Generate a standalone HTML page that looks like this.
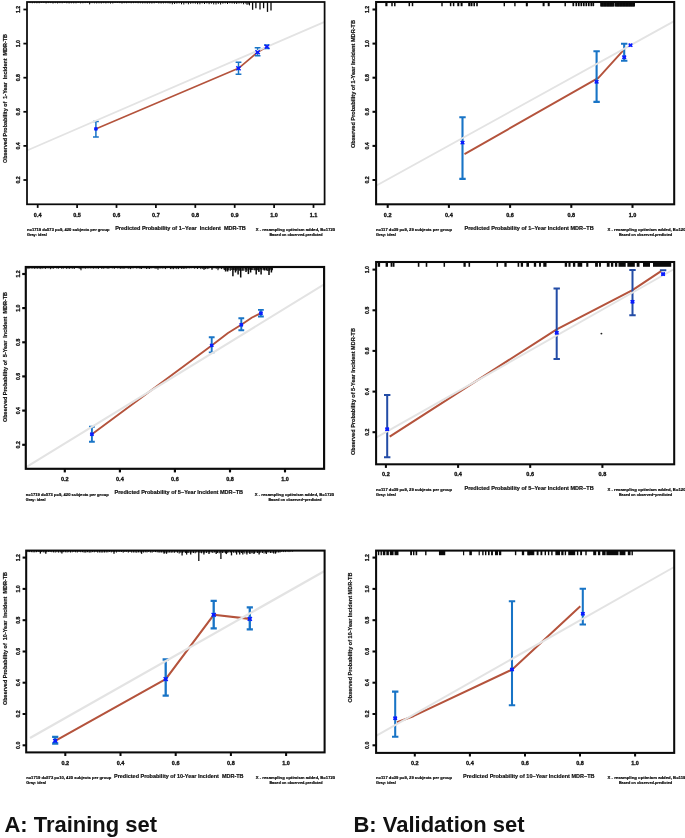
<!DOCTYPE html>
<html><head><meta charset="utf-8"><title>Calibration curves</title>
<style>
html,body{margin:0;padding:0;background:#fff;}
body{width:685px;height:838px;overflow:hidden;font-family:"Liberation Sans",sans-serif;}
svg{display:block;}
</style></head><body>
<svg width="685" height="838" viewBox="0 0 685 838">
<rect width="685" height="838" fill="#ffffff"/>
<g style="filter:blur(0.35px)">
<polyline points="96.2,128.7 238.5,68.3 257.6,52.2 266.9,46.7" fill="none" stroke="#b4533c" stroke-width="1.6" stroke-linejoin="round"/>
<path d="M95.9 121.5V137.0M93.0 121.5H98.8M93.0 137.0H98.8" stroke="#1874c6" stroke-width="1.5" fill="none"/>
<path d="M238.5 62.3V74.3M235.6 62.3H241.4M235.6 74.3H241.4" stroke="#1874c6" stroke-width="1.5" fill="none"/>
<path d="M257.6 47.7V55.7M254.7 47.7H260.5M254.7 55.7H260.5" stroke="#1874c6" stroke-width="1.5" fill="none"/>
<path d="M266.9 44.9V48.5M264.0 44.9H269.8M264.0 48.5H269.8" stroke="#1874c6" stroke-width="1.5" fill="none"/>
<line x1="27" y1="150.5" x2="324.6" y2="21.8" stroke="#e3e3e3" stroke-width="1.8"/>
<line x1="30.0" y1="2" x2="30.0" y2="3.1" stroke="#0a0a0a" stroke-width="0.9"/>
<line x1="32.3" y1="2" x2="32.3" y2="3.3" stroke="#0a0a0a" stroke-width="0.9"/>
<line x1="34.6" y1="2" x2="34.6" y2="3.2" stroke="#0a0a0a" stroke-width="0.9"/>
<line x1="36.9" y1="2" x2="36.9" y2="3.3" stroke="#0a0a0a" stroke-width="0.9"/>
<line x1="39.2" y1="2" x2="39.2" y2="3.3" stroke="#0a0a0a" stroke-width="0.9"/>
<line x1="41.5" y1="2" x2="41.5" y2="2.9" stroke="#0a0a0a" stroke-width="0.9"/>
<line x1="43.8" y1="2" x2="43.8" y2="2.9" stroke="#0a0a0a" stroke-width="0.9"/>
<line x1="46.1" y1="2" x2="46.1" y2="3.5" stroke="#0a0a0a" stroke-width="0.9"/>
<line x1="48.4" y1="2" x2="48.4" y2="3.1" stroke="#0a0a0a" stroke-width="0.9"/>
<line x1="50.7" y1="2" x2="50.7" y2="3.1" stroke="#0a0a0a" stroke-width="0.9"/>
<line x1="53.0" y1="2" x2="53.0" y2="3.6" stroke="#0a0a0a" stroke-width="0.9"/>
<line x1="55.3" y1="2" x2="55.3" y2="3.2" stroke="#0a0a0a" stroke-width="0.9"/>
<line x1="57.6" y1="2" x2="57.6" y2="3.5" stroke="#0a0a0a" stroke-width="0.9"/>
<line x1="59.9" y1="2" x2="59.9" y2="3.2" stroke="#0a0a0a" stroke-width="0.9"/>
<line x1="62.2" y1="2" x2="62.2" y2="3.3" stroke="#0a0a0a" stroke-width="0.9"/>
<line x1="64.5" y1="2" x2="64.5" y2="3.0" stroke="#0a0a0a" stroke-width="0.9"/>
<line x1="66.8" y1="2" x2="66.8" y2="3.3" stroke="#0a0a0a" stroke-width="0.9"/>
<line x1="69.1" y1="2" x2="69.1" y2="3.5" stroke="#0a0a0a" stroke-width="0.9"/>
<line x1="71.4" y1="2" x2="71.4" y2="3.3" stroke="#0a0a0a" stroke-width="0.9"/>
<line x1="73.7" y1="2" x2="73.7" y2="3.4" stroke="#0a0a0a" stroke-width="0.9"/>
<line x1="76.0" y1="2" x2="76.0" y2="3.4" stroke="#0a0a0a" stroke-width="0.9"/>
<line x1="78.3" y1="2" x2="78.3" y2="2.9" stroke="#0a0a0a" stroke-width="0.9"/>
<line x1="80.6" y1="2" x2="80.6" y2="3.4" stroke="#0a0a0a" stroke-width="0.9"/>
<line x1="82.9" y1="2" x2="82.9" y2="3.3" stroke="#0a0a0a" stroke-width="0.9"/>
<line x1="85.2" y1="2" x2="85.2" y2="3.1" stroke="#0a0a0a" stroke-width="0.9"/>
<line x1="87.5" y1="2" x2="87.5" y2="2.9" stroke="#0a0a0a" stroke-width="0.9"/>
<line x1="89.8" y1="2" x2="89.8" y2="3.5" stroke="#0a0a0a" stroke-width="0.9"/>
<line x1="92.1" y1="2" x2="92.1" y2="3.2" stroke="#0a0a0a" stroke-width="0.9"/>
<line x1="94.4" y1="2" x2="94.4" y2="3.4" stroke="#0a0a0a" stroke-width="0.9"/>
<line x1="96.7" y1="2" x2="96.7" y2="3.5" stroke="#0a0a0a" stroke-width="0.9"/>
<line x1="99.0" y1="2" x2="99.0" y2="3.4" stroke="#0a0a0a" stroke-width="0.9"/>
<line x1="101.3" y1="2" x2="101.3" y2="3.5" stroke="#0a0a0a" stroke-width="0.9"/>
<line x1="103.6" y1="2" x2="103.6" y2="3.2" stroke="#0a0a0a" stroke-width="0.9"/>
<line x1="105.9" y1="2" x2="105.9" y2="3.5" stroke="#0a0a0a" stroke-width="0.9"/>
<line x1="108.2" y1="2" x2="108.2" y2="3.2" stroke="#0a0a0a" stroke-width="0.9"/>
<line x1="110.5" y1="2" x2="110.5" y2="3.6" stroke="#0a0a0a" stroke-width="0.9"/>
<line x1="112.8" y1="2" x2="112.8" y2="3.5" stroke="#0a0a0a" stroke-width="0.9"/>
<line x1="115.1" y1="2" x2="115.1" y2="3.0" stroke="#0a0a0a" stroke-width="0.9"/>
<line x1="117.4" y1="2" x2="117.4" y2="3.0" stroke="#0a0a0a" stroke-width="0.9"/>
<line x1="119.7" y1="2" x2="119.7" y2="3.1" stroke="#0a0a0a" stroke-width="0.9"/>
<line x1="122.0" y1="2" x2="122.0" y2="3.6" stroke="#0a0a0a" stroke-width="0.9"/>
<line x1="124.3" y1="2" x2="124.3" y2="3.2" stroke="#0a0a0a" stroke-width="0.9"/>
<line x1="126.6" y1="2" x2="126.6" y2="3.3" stroke="#0a0a0a" stroke-width="0.9"/>
<line x1="128.9" y1="2" x2="128.9" y2="3.1" stroke="#0a0a0a" stroke-width="0.9"/>
<line x1="131.2" y1="2" x2="131.2" y2="3.3" stroke="#0a0a0a" stroke-width="0.9"/>
<line x1="133.5" y1="2" x2="133.5" y2="3.2" stroke="#0a0a0a" stroke-width="0.9"/>
<line x1="135.8" y1="2" x2="135.8" y2="3.1" stroke="#0a0a0a" stroke-width="0.9"/>
<line x1="138.1" y1="2" x2="138.1" y2="3.3" stroke="#0a0a0a" stroke-width="0.9"/>
<line x1="140.4" y1="2" x2="140.4" y2="3.3" stroke="#0a0a0a" stroke-width="0.9"/>
<line x1="142.7" y1="2" x2="142.7" y2="3.5" stroke="#0a0a0a" stroke-width="0.9"/>
<line x1="145.0" y1="2" x2="145.0" y2="3.4" stroke="#0a0a0a" stroke-width="0.9"/>
<line x1="147.3" y1="2" x2="147.3" y2="3.6" stroke="#0a0a0a" stroke-width="0.9"/>
<line x1="149.6" y1="2" x2="149.6" y2="3.5" stroke="#0a0a0a" stroke-width="0.9"/>
<line x1="151.9" y1="2" x2="151.9" y2="3.6" stroke="#0a0a0a" stroke-width="0.9"/>
<line x1="154.2" y1="2" x2="154.2" y2="3.4" stroke="#0a0a0a" stroke-width="0.9"/>
<line x1="156.5" y1="2" x2="156.5" y2="3.0" stroke="#0a0a0a" stroke-width="0.9"/>
<line x1="158.8" y1="2" x2="158.8" y2="3.5" stroke="#0a0a0a" stroke-width="0.9"/>
<line x1="161.1" y1="2" x2="161.1" y2="3.6" stroke="#0a0a0a" stroke-width="0.9"/>
<line x1="163.4" y1="2" x2="163.4" y2="3.5" stroke="#0a0a0a" stroke-width="0.9"/>
<line x1="165.7" y1="2" x2="165.7" y2="3.3" stroke="#0a0a0a" stroke-width="0.9"/>
<line x1="168.0" y1="2" x2="168.0" y2="3.4" stroke="#0a0a0a" stroke-width="0.9"/>
<line x1="170.0" y1="2" x2="170.0" y2="3.6" stroke="#0a0a0a" stroke-width="1.0"/>
<line x1="172.3" y1="2" x2="172.3" y2="4.3" stroke="#0a0a0a" stroke-width="1.0"/>
<line x1="174.6" y1="2" x2="174.6" y2="4.0" stroke="#0a0a0a" stroke-width="1.0"/>
<line x1="176.9" y1="2" x2="176.9" y2="3.6" stroke="#0a0a0a" stroke-width="1.0"/>
<line x1="179.2" y1="2" x2="179.2" y2="3.4" stroke="#0a0a0a" stroke-width="1.0"/>
<line x1="181.5" y1="2" x2="181.5" y2="4.3" stroke="#0a0a0a" stroke-width="1.0"/>
<line x1="183.8" y1="2" x2="183.8" y2="4.5" stroke="#0a0a0a" stroke-width="1.0"/>
<line x1="186.1" y1="2" x2="186.1" y2="3.4" stroke="#0a0a0a" stroke-width="1.0"/>
<line x1="188.4" y1="2" x2="188.4" y2="4.3" stroke="#0a0a0a" stroke-width="1.0"/>
<line x1="190.7" y1="2" x2="190.7" y2="3.8" stroke="#0a0a0a" stroke-width="1.0"/>
<line x1="193.0" y1="2" x2="193.0" y2="3.5" stroke="#0a0a0a" stroke-width="1.0"/>
<line x1="195.3" y1="2" x2="195.3" y2="3.7" stroke="#0a0a0a" stroke-width="1.0"/>
<line x1="197.6" y1="2" x2="197.6" y2="4.2" stroke="#0a0a0a" stroke-width="1.0"/>
<line x1="199.9" y1="2" x2="199.9" y2="4.3" stroke="#0a0a0a" stroke-width="1.0"/>
<line x1="202.2" y1="2" x2="202.2" y2="3.4" stroke="#0a0a0a" stroke-width="1.0"/>
<line x1="204.5" y1="2" x2="204.5" y2="4.0" stroke="#0a0a0a" stroke-width="1.0"/>
<line x1="206.8" y1="2" x2="206.8" y2="3.4" stroke="#0a0a0a" stroke-width="1.0"/>
<line x1="209.1" y1="2" x2="209.1" y2="4.2" stroke="#0a0a0a" stroke-width="1.0"/>
<line x1="211.4" y1="2" x2="211.4" y2="3.7" stroke="#0a0a0a" stroke-width="1.0"/>
<line x1="213.7" y1="2" x2="213.7" y2="4.4" stroke="#0a0a0a" stroke-width="1.0"/>
<line x1="216.0" y1="2" x2="216.0" y2="4.5" stroke="#0a0a0a" stroke-width="1.0"/>
<line x1="218.3" y1="2" x2="218.3" y2="3.9" stroke="#0a0a0a" stroke-width="1.0"/>
<line x1="220.6" y1="2" x2="220.6" y2="4.5" stroke="#0a0a0a" stroke-width="1.0"/>
<line x1="222.9" y1="2" x2="222.9" y2="3.7" stroke="#0a0a0a" stroke-width="1.0"/>
<line x1="225.2" y1="2" x2="225.2" y2="3.4" stroke="#0a0a0a" stroke-width="1.0"/>
<line x1="227.5" y1="2" x2="227.5" y2="4.0" stroke="#0a0a0a" stroke-width="1.0"/>
<line x1="229.8" y1="2" x2="229.8" y2="3.3" stroke="#0a0a0a" stroke-width="1.0"/>
<line x1="232.1" y1="2" x2="232.1" y2="3.5" stroke="#0a0a0a" stroke-width="1.0"/>
<line x1="234.4" y1="2" x2="234.4" y2="3.8" stroke="#0a0a0a" stroke-width="1.0"/>
<line x1="236.7" y1="2" x2="236.7" y2="4.0" stroke="#0a0a0a" stroke-width="1.0"/>
<line x1="239.0" y1="2" x2="239.0" y2="3.5" stroke="#0a0a0a" stroke-width="1.0"/>
<line x1="241.3" y1="2" x2="241.3" y2="3.4" stroke="#0a0a0a" stroke-width="1.0"/>
<line x1="243.6" y1="2" x2="243.6" y2="4.3" stroke="#0a0a0a" stroke-width="1.0"/>
<line x1="245.9" y1="2" x2="245.9" y2="3.7" stroke="#0a0a0a" stroke-width="1.0"/>
<line x1="248.2" y1="2" x2="248.2" y2="4.5" stroke="#0a0a0a" stroke-width="1.0"/>
<line x1="252.6" y1="2" x2="252.6" y2="9.8" stroke="#0a0a0a" stroke-width="1.3"/>
<line x1="255.9" y1="2" x2="255.9" y2="8.2" stroke="#0a0a0a" stroke-width="1.3"/>
<line x1="260.0" y1="2" x2="260.0" y2="9.4" stroke="#0a0a0a" stroke-width="1.3"/>
<line x1="263.6" y1="2" x2="263.6" y2="8.2" stroke="#0a0a0a" stroke-width="1.3"/>
<line x1="267.5" y1="2" x2="267.5" y2="11.9" stroke="#0a0a0a" stroke-width="1.3"/>
<line x1="271.0" y1="2" x2="271.0" y2="10.6" stroke="#0a0a0a" stroke-width="1.3"/>
<line x1="89.6" y1="2" x2="89.6" y2="4.4" stroke="#0a0a0a" stroke-width="0.9"/>
<line x1="247.0" y1="2" x2="247.0" y2="4.8" stroke="#0a0a0a" stroke-width="1.0"/>
<line x1="249.5" y1="2" x2="249.5" y2="5.4" stroke="#0a0a0a" stroke-width="1.0"/>
<path d="M94.6 127.8L97.2 130.0M94.6 130.0L97.2 127.8" stroke="#0a1cff" stroke-width="1.4" fill="none"/>
<rect x="94.3" y="127.3" width="3.2" height="3.2" fill="#0a1cff"/>
<path d="M236.3 66.4L240.7 70.2M236.3 70.2L240.7 66.4" stroke="#0a1cff" stroke-width="1.4" fill="none"/>
<rect x="237.3" y="67.1" width="2.4" height="2.4" fill="#0a1cff"/>
<path d="M255.4 50.3L259.8 54.1M255.4 54.1L259.8 50.3" stroke="#0a1cff" stroke-width="1.4" fill="none"/>
<rect x="256.4" y="51.0" width="2.4" height="2.4" fill="#0a1cff"/>
<path d="M264.7 44.8L269.1 48.6M264.7 48.6L269.1 44.8" stroke="#0a1cff" stroke-width="1.4" fill="none"/>
<rect x="265.7" y="45.5" width="2.4" height="2.4" fill="#0a1cff"/>
<rect x="27" y="2" width="297.6" height="202.3" fill="none" stroke="#0a0a0a" stroke-width="1.75"/>
<line x1="37.7" y1="204.3" x2="37.7" y2="207.9" stroke="#0a0a0a" stroke-width="1.75"/>
<text x="37.7" y="216.8" font-size="5.5" text-anchor="middle" fill="#111" font-family="Liberation Sans, sans-serif" font-weight="bold" stroke="#111" stroke-width="0.32" >0.4</text>
<line x1="77.1" y1="204.3" x2="77.1" y2="207.9" stroke="#0a0a0a" stroke-width="1.75"/>
<text x="77.1" y="216.8" font-size="5.5" text-anchor="middle" fill="#111" font-family="Liberation Sans, sans-serif" font-weight="bold" stroke="#111" stroke-width="0.32" >0.5</text>
<line x1="116.5" y1="204.3" x2="116.5" y2="207.9" stroke="#0a0a0a" stroke-width="1.75"/>
<text x="116.5" y="216.8" font-size="5.5" text-anchor="middle" fill="#111" font-family="Liberation Sans, sans-serif" font-weight="bold" stroke="#111" stroke-width="0.32" >0.6</text>
<line x1="155.9" y1="204.3" x2="155.9" y2="207.9" stroke="#0a0a0a" stroke-width="1.75"/>
<text x="155.9" y="216.8" font-size="5.5" text-anchor="middle" fill="#111" font-family="Liberation Sans, sans-serif" font-weight="bold" stroke="#111" stroke-width="0.32" >0.7</text>
<line x1="195.3" y1="204.3" x2="195.3" y2="207.9" stroke="#0a0a0a" stroke-width="1.75"/>
<text x="195.3" y="216.8" font-size="5.5" text-anchor="middle" fill="#111" font-family="Liberation Sans, sans-serif" font-weight="bold" stroke="#111" stroke-width="0.32" >0.8</text>
<line x1="234.7" y1="204.3" x2="234.7" y2="207.9" stroke="#0a0a0a" stroke-width="1.75"/>
<text x="234.7" y="216.8" font-size="5.5" text-anchor="middle" fill="#111" font-family="Liberation Sans, sans-serif" font-weight="bold" stroke="#111" stroke-width="0.32" >0.9</text>
<line x1="274.1" y1="204.3" x2="274.1" y2="207.9" stroke="#0a0a0a" stroke-width="1.75"/>
<text x="274.1" y="216.8" font-size="5.5" text-anchor="middle" fill="#111" font-family="Liberation Sans, sans-serif" font-weight="bold" stroke="#111" stroke-width="0.32" >1.0</text>
<line x1="313.5" y1="204.3" x2="313.5" y2="207.9" stroke="#0a0a0a" stroke-width="1.75"/>
<text x="313.5" y="216.8" font-size="5.5" text-anchor="middle" fill="#111" font-family="Liberation Sans, sans-serif" font-weight="bold" stroke="#111" stroke-width="0.32" >1.1</text>
<line x1="23.4" y1="180.0" x2="27" y2="180.0" stroke="#0a0a0a" stroke-width="1.75"/>
<text x="19.8" y="180.0" font-size="5.15" text-anchor="middle" fill="#111" font-family="Liberation Sans, sans-serif" font-weight="bold" transform="rotate(-90 19.8 180.0)" stroke="#111" stroke-width="0.32" >0.2</text>
<line x1="23.4" y1="145.9" x2="27" y2="145.9" stroke="#0a0a0a" stroke-width="1.75"/>
<text x="19.8" y="145.9" font-size="5.15" text-anchor="middle" fill="#111" font-family="Liberation Sans, sans-serif" font-weight="bold" transform="rotate(-90 19.8 145.9)" stroke="#111" stroke-width="0.32" >0.4</text>
<line x1="23.4" y1="111.8" x2="27" y2="111.8" stroke="#0a0a0a" stroke-width="1.75"/>
<text x="19.8" y="111.8" font-size="5.15" text-anchor="middle" fill="#111" font-family="Liberation Sans, sans-serif" font-weight="bold" transform="rotate(-90 19.8 111.8)" stroke="#111" stroke-width="0.32" >0.6</text>
<line x1="23.4" y1="77.7" x2="27" y2="77.7" stroke="#0a0a0a" stroke-width="1.75"/>
<text x="19.8" y="77.7" font-size="5.15" text-anchor="middle" fill="#111" font-family="Liberation Sans, sans-serif" font-weight="bold" transform="rotate(-90 19.8 77.7)" stroke="#111" stroke-width="0.32" >0.8</text>
<line x1="23.4" y1="43.6" x2="27" y2="43.6" stroke="#0a0a0a" stroke-width="1.75"/>
<text x="19.8" y="43.6" font-size="5.15" text-anchor="middle" fill="#111" font-family="Liberation Sans, sans-serif" font-weight="bold" transform="rotate(-90 19.8 43.6)" stroke="#111" stroke-width="0.32" >1.0</text>
<line x1="23.4" y1="9.5" x2="27" y2="9.5" stroke="#0a0a0a" stroke-width="1.75"/>
<text x="19.8" y="9.5" font-size="5.15" text-anchor="middle" fill="#111" font-family="Liberation Sans, sans-serif" font-weight="bold" transform="rotate(-90 19.8 9.5)" stroke="#111" stroke-width="0.32" >1.2</text>
<text x="180.5" y="229.8" font-size="5.5" text-anchor="middle" fill="#111" font-family="Liberation Sans, sans-serif" font-weight="bold" textLength="130.6" lengthAdjust="spacingAndGlyphs" stroke="#111" stroke-width="0.2" >Predicted Probability of 1&#8722;Year &#160;Incident &#160;MDR-TB</text>
<text x="6.5" y="98.5" font-size="5.5" text-anchor="middle" fill="#111" font-family="Liberation Sans, sans-serif" font-weight="bold" textLength="129.0" lengthAdjust="spacingAndGlyphs" transform="rotate(-90 6.5 98.5)" stroke="#111" stroke-width="0.2" >Observed Probability of &#160;1-Year &#160;Incident &#160;MDR-TB</text>
<text x="27.0" y="231.2" font-size="4.0" text-anchor="start" fill="#000" font-family="Liberation Sans, sans-serif" font-weight="bold" textLength="82.5" lengthAdjust="spacingAndGlyphs" stroke="#000" stroke-width="0.17" >n=1719 d=573 p=9, 420 subjects per group</text>
<text x="27.0" y="236.2" font-size="4.0" text-anchor="start" fill="#000" font-family="Liberation Sans, sans-serif" font-weight="bold" textLength="19.7" lengthAdjust="spacingAndGlyphs" stroke="#000" stroke-width="0.17" >Gray: ideal</text>
<text x="295.5" y="231.2" font-size="4.0" text-anchor="middle" fill="#000" font-family="Liberation Sans, sans-serif" font-weight="bold" textLength="79.3" lengthAdjust="spacingAndGlyphs" stroke="#000" stroke-width="0.17" >X - resampling optimism added, B=1720</text>
<text x="296.0" y="236.2" font-size="4.0" text-anchor="middle" fill="#000" font-family="Liberation Sans, sans-serif" font-weight="bold" textLength="53.2" lengthAdjust="spacingAndGlyphs" stroke="#000" stroke-width="0.17" >Based on observed-predicted</text>
<polyline points="91.9,434.2 211.7,345.4 228.0,333.0 241.3,324.8 252.0,317.5 260.9,313.2" fill="none" stroke="#b4533c" stroke-width="1.9" stroke-linejoin="round"/>
<path d="M91.9 426.7V441.7M89.0 426.7H94.8M89.0 441.7H94.8" stroke="#1874c6" stroke-width="1.9" fill="none"/>
<path d="M211.7 337.3V352.4M208.8 337.3H214.6M208.8 352.4H214.6" stroke="#1874c6" stroke-width="1.9" fill="none"/>
<path d="M241.3 318.2V330.3M238.4 318.2H244.2M238.4 330.3H244.2" stroke="#1874c6" stroke-width="1.9" fill="none"/>
<path d="M260.9 309.9V316.5M258.0 309.9H263.8M258.0 316.5H263.8" stroke="#1874c6" stroke-width="1.9" fill="none"/>
<line x1="25.8" y1="467.3" x2="324.1" y2="284.4" stroke="#e3e3e3" stroke-width="2.1"/>
<line x1="28.0" y1="267" x2="28.0" y2="269.1" stroke="#0a0a0a" stroke-width="1.0"/>
<line x1="29.6" y1="267" x2="29.6" y2="268.5" stroke="#0a0a0a" stroke-width="1.0"/>
<line x1="31.2" y1="267" x2="31.2" y2="268.6" stroke="#0a0a0a" stroke-width="1.0"/>
<line x1="32.8" y1="267" x2="32.8" y2="268.6" stroke="#0a0a0a" stroke-width="1.0"/>
<line x1="34.4" y1="267" x2="34.4" y2="268.8" stroke="#0a0a0a" stroke-width="1.0"/>
<line x1="36.0" y1="267" x2="36.0" y2="268.7" stroke="#0a0a0a" stroke-width="1.0"/>
<line x1="37.6" y1="267" x2="37.6" y2="268.7" stroke="#0a0a0a" stroke-width="1.0"/>
<line x1="39.2" y1="267" x2="39.2" y2="268.7" stroke="#0a0a0a" stroke-width="1.0"/>
<line x1="40.8" y1="267" x2="40.8" y2="269.1" stroke="#0a0a0a" stroke-width="1.0"/>
<line x1="42.4" y1="267" x2="42.4" y2="268.6" stroke="#0a0a0a" stroke-width="1.0"/>
<line x1="44.0" y1="267" x2="44.0" y2="268.5" stroke="#0a0a0a" stroke-width="1.0"/>
<line x1="45.6" y1="267" x2="45.6" y2="268.9" stroke="#0a0a0a" stroke-width="1.0"/>
<line x1="47.2" y1="267" x2="47.2" y2="268.3" stroke="#0a0a0a" stroke-width="1.0"/>
<line x1="48.8" y1="267" x2="48.8" y2="268.4" stroke="#0a0a0a" stroke-width="1.0"/>
<line x1="50.4" y1="267" x2="50.4" y2="269.2" stroke="#0a0a0a" stroke-width="1.0"/>
<line x1="52.0" y1="267" x2="52.0" y2="268.6" stroke="#0a0a0a" stroke-width="1.0"/>
<line x1="53.6" y1="267" x2="53.6" y2="268.7" stroke="#0a0a0a" stroke-width="1.0"/>
<line x1="55.2" y1="267" x2="55.2" y2="268.0" stroke="#0a0a0a" stroke-width="1.0"/>
<line x1="56.8" y1="267" x2="56.8" y2="268.5" stroke="#0a0a0a" stroke-width="1.0"/>
<line x1="58.4" y1="267" x2="58.4" y2="268.7" stroke="#0a0a0a" stroke-width="1.0"/>
<line x1="60.0" y1="267" x2="60.0" y2="268.0" stroke="#0a0a0a" stroke-width="1.0"/>
<line x1="61.6" y1="267" x2="61.6" y2="268.7" stroke="#0a0a0a" stroke-width="1.0"/>
<line x1="63.2" y1="267" x2="63.2" y2="268.8" stroke="#0a0a0a" stroke-width="1.0"/>
<line x1="64.8" y1="267" x2="64.8" y2="268.1" stroke="#0a0a0a" stroke-width="1.0"/>
<line x1="66.4" y1="267" x2="66.4" y2="268.8" stroke="#0a0a0a" stroke-width="1.0"/>
<line x1="68.0" y1="267" x2="68.0" y2="268.6" stroke="#0a0a0a" stroke-width="1.0"/>
<line x1="69.6" y1="267" x2="69.6" y2="268.8" stroke="#0a0a0a" stroke-width="1.0"/>
<line x1="71.2" y1="267" x2="71.2" y2="268.4" stroke="#0a0a0a" stroke-width="1.0"/>
<line x1="72.8" y1="267" x2="72.8" y2="268.8" stroke="#0a0a0a" stroke-width="1.0"/>
<line x1="74.4" y1="267" x2="74.4" y2="268.9" stroke="#0a0a0a" stroke-width="1.0"/>
<line x1="76.0" y1="267" x2="76.0" y2="268.0" stroke="#0a0a0a" stroke-width="1.0"/>
<line x1="77.6" y1="267" x2="77.6" y2="268.1" stroke="#0a0a0a" stroke-width="1.0"/>
<line x1="79.2" y1="267" x2="79.2" y2="268.8" stroke="#0a0a0a" stroke-width="1.0"/>
<line x1="80.8" y1="267" x2="80.8" y2="269.2" stroke="#0a0a0a" stroke-width="1.0"/>
<line x1="82.4" y1="267" x2="82.4" y2="268.3" stroke="#0a0a0a" stroke-width="1.0"/>
<line x1="84.0" y1="267" x2="84.0" y2="268.5" stroke="#0a0a0a" stroke-width="1.0"/>
<line x1="85.6" y1="267" x2="85.6" y2="268.7" stroke="#0a0a0a" stroke-width="1.0"/>
<line x1="87.2" y1="267" x2="87.2" y2="268.4" stroke="#0a0a0a" stroke-width="1.0"/>
<line x1="88.8" y1="267" x2="88.8" y2="268.4" stroke="#0a0a0a" stroke-width="1.0"/>
<line x1="90.4" y1="267" x2="90.4" y2="268.4" stroke="#0a0a0a" stroke-width="1.0"/>
<line x1="92.0" y1="267" x2="92.0" y2="268.4" stroke="#0a0a0a" stroke-width="1.0"/>
<line x1="93.6" y1="267" x2="93.6" y2="268.7" stroke="#0a0a0a" stroke-width="1.0"/>
<line x1="95.2" y1="267" x2="95.2" y2="268.4" stroke="#0a0a0a" stroke-width="1.0"/>
<line x1="96.8" y1="267" x2="96.8" y2="268.5" stroke="#0a0a0a" stroke-width="1.0"/>
<line x1="98.4" y1="267" x2="98.4" y2="268.9" stroke="#0a0a0a" stroke-width="1.0"/>
<line x1="100.0" y1="267" x2="100.0" y2="268.0" stroke="#0a0a0a" stroke-width="1.0"/>
<line x1="101.6" y1="267" x2="101.6" y2="268.7" stroke="#0a0a0a" stroke-width="1.0"/>
<line x1="103.2" y1="267" x2="103.2" y2="268.9" stroke="#0a0a0a" stroke-width="1.0"/>
<line x1="104.8" y1="267" x2="104.8" y2="268.4" stroke="#0a0a0a" stroke-width="1.0"/>
<line x1="106.4" y1="267" x2="106.4" y2="268.3" stroke="#0a0a0a" stroke-width="1.0"/>
<line x1="108.0" y1="267" x2="108.0" y2="269.0" stroke="#0a0a0a" stroke-width="1.0"/>
<line x1="109.6" y1="267" x2="109.6" y2="268.3" stroke="#0a0a0a" stroke-width="1.0"/>
<line x1="111.2" y1="267" x2="111.2" y2="268.2" stroke="#0a0a0a" stroke-width="1.0"/>
<line x1="112.8" y1="267" x2="112.8" y2="268.5" stroke="#0a0a0a" stroke-width="1.0"/>
<line x1="114.4" y1="267" x2="114.4" y2="268.8" stroke="#0a0a0a" stroke-width="1.0"/>
<line x1="116.0" y1="267" x2="116.0" y2="268.1" stroke="#0a0a0a" stroke-width="1.0"/>
<line x1="117.6" y1="267" x2="117.6" y2="268.4" stroke="#0a0a0a" stroke-width="1.0"/>
<line x1="119.2" y1="267" x2="119.2" y2="268.4" stroke="#0a0a0a" stroke-width="1.0"/>
<line x1="120.8" y1="267" x2="120.8" y2="269.0" stroke="#0a0a0a" stroke-width="1.0"/>
<line x1="122.4" y1="267" x2="122.4" y2="268.5" stroke="#0a0a0a" stroke-width="1.0"/>
<line x1="124.0" y1="267" x2="124.0" y2="269.0" stroke="#0a0a0a" stroke-width="1.0"/>
<line x1="125.6" y1="267" x2="125.6" y2="268.2" stroke="#0a0a0a" stroke-width="1.0"/>
<line x1="127.2" y1="267" x2="127.2" y2="268.4" stroke="#0a0a0a" stroke-width="1.0"/>
<line x1="128.8" y1="267" x2="128.8" y2="268.8" stroke="#0a0a0a" stroke-width="1.0"/>
<line x1="130.4" y1="267" x2="130.4" y2="269.1" stroke="#0a0a0a" stroke-width="1.0"/>
<line x1="132.0" y1="267" x2="132.0" y2="268.5" stroke="#0a0a0a" stroke-width="1.0"/>
<line x1="133.6" y1="267" x2="133.6" y2="268.3" stroke="#0a0a0a" stroke-width="1.0"/>
<line x1="135.2" y1="267" x2="135.2" y2="268.1" stroke="#0a0a0a" stroke-width="1.0"/>
<line x1="136.8" y1="267" x2="136.8" y2="268.6" stroke="#0a0a0a" stroke-width="1.0"/>
<line x1="138.4" y1="267" x2="138.4" y2="268.2" stroke="#0a0a0a" stroke-width="1.0"/>
<line x1="140.0" y1="267" x2="140.0" y2="269.0" stroke="#0a0a0a" stroke-width="1.0"/>
<line x1="141.6" y1="267" x2="141.6" y2="269.0" stroke="#0a0a0a" stroke-width="1.0"/>
<line x1="143.2" y1="267" x2="143.2" y2="268.2" stroke="#0a0a0a" stroke-width="1.0"/>
<line x1="144.8" y1="267" x2="144.8" y2="268.3" stroke="#0a0a0a" stroke-width="1.0"/>
<line x1="146.4" y1="267" x2="146.4" y2="269.0" stroke="#0a0a0a" stroke-width="1.0"/>
<line x1="148.0" y1="267" x2="148.0" y2="268.8" stroke="#0a0a0a" stroke-width="1.0"/>
<line x1="149.6" y1="267" x2="149.6" y2="269.0" stroke="#0a0a0a" stroke-width="1.0"/>
<line x1="151.2" y1="267" x2="151.2" y2="268.4" stroke="#0a0a0a" stroke-width="1.0"/>
<line x1="152.8" y1="267" x2="152.8" y2="268.2" stroke="#0a0a0a" stroke-width="1.0"/>
<line x1="154.4" y1="267" x2="154.4" y2="268.4" stroke="#0a0a0a" stroke-width="1.0"/>
<line x1="156.0" y1="267" x2="156.0" y2="269.0" stroke="#0a0a0a" stroke-width="1.0"/>
<line x1="157.6" y1="267" x2="157.6" y2="268.3" stroke="#0a0a0a" stroke-width="1.0"/>
<line x1="159.2" y1="267" x2="159.2" y2="268.4" stroke="#0a0a0a" stroke-width="1.0"/>
<line x1="160.8" y1="267" x2="160.8" y2="268.5" stroke="#0a0a0a" stroke-width="1.0"/>
<line x1="162.4" y1="267" x2="162.4" y2="268.5" stroke="#0a0a0a" stroke-width="1.0"/>
<line x1="164.0" y1="267" x2="164.0" y2="268.5" stroke="#0a0a0a" stroke-width="1.0"/>
<line x1="165.6" y1="267" x2="165.6" y2="269.1" stroke="#0a0a0a" stroke-width="1.0"/>
<line x1="167.2" y1="267" x2="167.2" y2="268.2" stroke="#0a0a0a" stroke-width="1.0"/>
<line x1="168.8" y1="267" x2="168.8" y2="268.0" stroke="#0a0a0a" stroke-width="1.0"/>
<line x1="170.4" y1="267" x2="170.4" y2="269.1" stroke="#0a0a0a" stroke-width="1.0"/>
<line x1="172.0" y1="267" x2="172.0" y2="269.1" stroke="#0a0a0a" stroke-width="1.0"/>
<line x1="173.6" y1="267" x2="173.6" y2="269.2" stroke="#0a0a0a" stroke-width="1.0"/>
<line x1="175.2" y1="267" x2="175.2" y2="268.5" stroke="#0a0a0a" stroke-width="1.0"/>
<line x1="176.8" y1="267" x2="176.8" y2="269.1" stroke="#0a0a0a" stroke-width="1.0"/>
<line x1="178.4" y1="267" x2="178.4" y2="269.1" stroke="#0a0a0a" stroke-width="1.0"/>
<line x1="180.0" y1="267" x2="180.0" y2="268.3" stroke="#0a0a0a" stroke-width="1.0"/>
<line x1="181.6" y1="267" x2="181.6" y2="268.9" stroke="#0a0a0a" stroke-width="1.0"/>
<line x1="183.2" y1="267" x2="183.2" y2="269.0" stroke="#0a0a0a" stroke-width="1.0"/>
<line x1="184.8" y1="267" x2="184.8" y2="268.8" stroke="#0a0a0a" stroke-width="1.0"/>
<line x1="186.4" y1="267" x2="186.4" y2="268.6" stroke="#0a0a0a" stroke-width="1.0"/>
<line x1="188.0" y1="267" x2="188.0" y2="268.3" stroke="#0a0a0a" stroke-width="1.0"/>
<line x1="189.6" y1="267" x2="189.6" y2="268.4" stroke="#0a0a0a" stroke-width="1.0"/>
<line x1="191.2" y1="267" x2="191.2" y2="268.3" stroke="#0a0a0a" stroke-width="1.0"/>
<line x1="192.8" y1="267" x2="192.8" y2="268.1" stroke="#0a0a0a" stroke-width="1.0"/>
<line x1="194.4" y1="267" x2="194.4" y2="268.7" stroke="#0a0a0a" stroke-width="1.0"/>
<line x1="196.0" y1="267" x2="196.0" y2="268.3" stroke="#0a0a0a" stroke-width="1.0"/>
<line x1="197.6" y1="267" x2="197.6" y2="269.0" stroke="#0a0a0a" stroke-width="1.0"/>
<line x1="199.2" y1="267" x2="199.2" y2="268.1" stroke="#0a0a0a" stroke-width="1.0"/>
<line x1="200.8" y1="267" x2="200.8" y2="269.1" stroke="#0a0a0a" stroke-width="1.0"/>
<line x1="202.4" y1="267" x2="202.4" y2="268.8" stroke="#0a0a0a" stroke-width="1.0"/>
<line x1="204.0" y1="267" x2="204.0" y2="269.1" stroke="#0a0a0a" stroke-width="1.0"/>
<line x1="205.6" y1="267" x2="205.6" y2="269.1" stroke="#0a0a0a" stroke-width="1.0"/>
<line x1="207.2" y1="267" x2="207.2" y2="269.1" stroke="#0a0a0a" stroke-width="1.0"/>
<line x1="208.8" y1="267" x2="208.8" y2="268.7" stroke="#0a0a0a" stroke-width="1.0"/>
<line x1="210.4" y1="267" x2="210.4" y2="268.0" stroke="#0a0a0a" stroke-width="1.0"/>
<line x1="212.0" y1="267" x2="212.0" y2="268.9" stroke="#0a0a0a" stroke-width="1.0"/>
<line x1="213.6" y1="267" x2="213.6" y2="268.2" stroke="#0a0a0a" stroke-width="1.0"/>
<line x1="215.2" y1="267" x2="215.2" y2="268.4" stroke="#0a0a0a" stroke-width="1.0"/>
<line x1="216.8" y1="267" x2="216.8" y2="268.8" stroke="#0a0a0a" stroke-width="1.0"/>
<line x1="218.4" y1="267" x2="218.4" y2="268.6" stroke="#0a0a0a" stroke-width="1.0"/>
<line x1="220.0" y1="267" x2="220.0" y2="268.5" stroke="#0a0a0a" stroke-width="1.0"/>
<line x1="221.6" y1="267" x2="221.6" y2="269.1" stroke="#0a0a0a" stroke-width="1.0"/>
<line x1="223.2" y1="267" x2="223.2" y2="268.7" stroke="#0a0a0a" stroke-width="1.0"/>
<line x1="224.3" y1="267" x2="224.3" y2="270.1" stroke="#0a0a0a" stroke-width="1.2"/>
<line x1="225.8" y1="267" x2="225.8" y2="270.0" stroke="#0a0a0a" stroke-width="1.2"/>
<line x1="227.3" y1="267" x2="227.3" y2="270.8" stroke="#0a0a0a" stroke-width="1.2"/>
<line x1="228.8" y1="267" x2="228.8" y2="270.3" stroke="#0a0a0a" stroke-width="1.2"/>
<line x1="230.3" y1="267" x2="230.3" y2="270.7" stroke="#0a0a0a" stroke-width="1.2"/>
<line x1="231.8" y1="267" x2="231.8" y2="270.1" stroke="#0a0a0a" stroke-width="1.2"/>
<line x1="233.3" y1="267" x2="233.3" y2="269.9" stroke="#0a0a0a" stroke-width="1.2"/>
<line x1="234.8" y1="267" x2="234.8" y2="270.3" stroke="#0a0a0a" stroke-width="1.2"/>
<line x1="236.3" y1="267" x2="236.3" y2="270.7" stroke="#0a0a0a" stroke-width="1.2"/>
<line x1="237.8" y1="267" x2="237.8" y2="269.8" stroke="#0a0a0a" stroke-width="1.2"/>
<line x1="239.3" y1="267" x2="239.3" y2="270.7" stroke="#0a0a0a" stroke-width="1.2"/>
<line x1="240.8" y1="267" x2="240.8" y2="270.9" stroke="#0a0a0a" stroke-width="1.2"/>
<line x1="242.3" y1="267" x2="242.3" y2="270.7" stroke="#0a0a0a" stroke-width="1.2"/>
<line x1="243.8" y1="267" x2="243.8" y2="270.8" stroke="#0a0a0a" stroke-width="1.2"/>
<line x1="245.3" y1="267" x2="245.3" y2="269.6" stroke="#0a0a0a" stroke-width="1.2"/>
<line x1="246.8" y1="267" x2="246.8" y2="270.5" stroke="#0a0a0a" stroke-width="1.2"/>
<line x1="248.3" y1="267" x2="248.3" y2="270.8" stroke="#0a0a0a" stroke-width="1.2"/>
<line x1="249.8" y1="267" x2="249.8" y2="269.7" stroke="#0a0a0a" stroke-width="1.2"/>
<line x1="251.3" y1="267" x2="251.3" y2="270.0" stroke="#0a0a0a" stroke-width="1.2"/>
<line x1="252.8" y1="267" x2="252.8" y2="270.0" stroke="#0a0a0a" stroke-width="1.2"/>
<line x1="254.3" y1="267" x2="254.3" y2="270.3" stroke="#0a0a0a" stroke-width="1.2"/>
<line x1="255.8" y1="267" x2="255.8" y2="270.2" stroke="#0a0a0a" stroke-width="1.2"/>
<line x1="257.3" y1="267" x2="257.3" y2="270.3" stroke="#0a0a0a" stroke-width="1.2"/>
<line x1="258.8" y1="267" x2="258.8" y2="270.7" stroke="#0a0a0a" stroke-width="1.2"/>
<line x1="260.3" y1="267" x2="260.3" y2="269.6" stroke="#0a0a0a" stroke-width="1.2"/>
<line x1="261.8" y1="267" x2="261.8" y2="269.7" stroke="#0a0a0a" stroke-width="1.2"/>
<line x1="263.3" y1="267" x2="263.3" y2="269.8" stroke="#0a0a0a" stroke-width="1.2"/>
<line x1="264.8" y1="267" x2="264.8" y2="269.8" stroke="#0a0a0a" stroke-width="1.2"/>
<line x1="266.3" y1="267" x2="266.3" y2="269.7" stroke="#0a0a0a" stroke-width="1.2"/>
<line x1="267.8" y1="267" x2="267.8" y2="271.0" stroke="#0a0a0a" stroke-width="1.2"/>
<line x1="269.3" y1="267" x2="269.3" y2="270.8" stroke="#0a0a0a" stroke-width="1.2"/>
<line x1="270.8" y1="267" x2="270.8" y2="269.7" stroke="#0a0a0a" stroke-width="1.2"/>
<line x1="272.3" y1="267" x2="272.3" y2="270.3" stroke="#0a0a0a" stroke-width="1.2"/>
<line x1="225.6" y1="267" x2="225.6" y2="271.5" stroke="#0a0a0a" stroke-width="1.5"/>
<line x1="227.6" y1="267" x2="227.6" y2="271.5" stroke="#0a0a0a" stroke-width="1.5"/>
<line x1="232.9" y1="267" x2="232.9" y2="276.2" stroke="#0a0a0a" stroke-width="1.5"/>
<line x1="235.5" y1="267" x2="235.5" y2="272.5" stroke="#0a0a0a" stroke-width="1.5"/>
<line x1="238.1" y1="267" x2="238.1" y2="274.5" stroke="#0a0a0a" stroke-width="1.5"/>
<line x1="240.7" y1="267" x2="240.7" y2="277.5" stroke="#0a0a0a" stroke-width="1.5"/>
<line x1="246.0" y1="267" x2="246.0" y2="271.9" stroke="#0a0a0a" stroke-width="1.5"/>
<line x1="248.4" y1="267" x2="248.4" y2="274.1" stroke="#0a0a0a" stroke-width="1.5"/>
<line x1="250.6" y1="267" x2="250.6" y2="272.5" stroke="#0a0a0a" stroke-width="1.5"/>
<line x1="256.2" y1="267" x2="256.2" y2="274.5" stroke="#0a0a0a" stroke-width="1.5"/>
<line x1="258.9" y1="267" x2="258.9" y2="272.0" stroke="#0a0a0a" stroke-width="1.5"/>
<line x1="261.1" y1="267" x2="261.1" y2="274.5" stroke="#0a0a0a" stroke-width="1.5"/>
<line x1="264.4" y1="267" x2="264.4" y2="270.5" stroke="#0a0a0a" stroke-width="1.5"/>
<line x1="266.4" y1="267" x2="266.4" y2="270.5" stroke="#0a0a0a" stroke-width="1.5"/>
<line x1="269.0" y1="267" x2="269.0" y2="275.1" stroke="#0a0a0a" stroke-width="1.5"/>
<line x1="271.4" y1="267" x2="271.4" y2="272.5" stroke="#0a0a0a" stroke-width="1.5"/>
<line x1="81.0" y1="267" x2="81.0" y2="270.3" stroke="#0a0a0a" stroke-width="1.0"/>
<line x1="158.0" y1="267" x2="158.0" y2="269.8" stroke="#0a0a0a" stroke-width="1.0"/>
<line x1="204.0" y1="267" x2="204.0" y2="270.0" stroke="#0a0a0a" stroke-width="1.0"/>
<line x1="212.0" y1="267" x2="212.0" y2="270.0" stroke="#0a0a0a" stroke-width="1.0"/>
<line x1="218.0" y1="267" x2="218.0" y2="270.2" stroke="#0a0a0a" stroke-width="1.0"/>
<path d="M90.2 432.8L93.6 435.6M90.2 435.6L93.6 432.8" stroke="#0a1cff" stroke-width="1.4" fill="none"/>
<rect x="90.4" y="432.7" width="3.0" height="3.0" fill="#0a1cff"/>
<path d="M210.0 344.0L213.4 346.8M210.0 346.8L213.4 344.0" stroke="#0a1cff" stroke-width="1.4" fill="none"/>
<rect x="210.2" y="343.9" width="3.0" height="3.0" fill="#0a1cff"/>
<path d="M239.6 323.4L243.0 326.2M239.6 326.2L243.0 323.4" stroke="#0a1cff" stroke-width="1.4" fill="none"/>
<rect x="239.8" y="323.3" width="3.0" height="3.0" fill="#0a1cff"/>
<path d="M259.2 311.8L262.6 314.6M259.2 314.6L262.6 311.8" stroke="#0a1cff" stroke-width="1.4" fill="none"/>
<rect x="259.4" y="311.7" width="3.0" height="3.0" fill="#0a1cff"/>
<rect x="25.8" y="267" width="298.3" height="201.8" fill="none" stroke="#0a0a0a" stroke-width="2.15"/>
<line x1="64.8" y1="468.8" x2="64.8" y2="472.40000000000003" stroke="#0a0a0a" stroke-width="2.15"/>
<text x="64.8" y="481.3" font-size="5.5" text-anchor="middle" fill="#111" font-family="Liberation Sans, sans-serif" font-weight="bold" stroke="#111" stroke-width="0.32" >0.2</text>
<line x1="119.9" y1="468.8" x2="119.9" y2="472.40000000000003" stroke="#0a0a0a" stroke-width="2.15"/>
<text x="119.9" y="481.3" font-size="5.5" text-anchor="middle" fill="#111" font-family="Liberation Sans, sans-serif" font-weight="bold" stroke="#111" stroke-width="0.32" >0.4</text>
<line x1="174.9" y1="468.8" x2="174.9" y2="472.40000000000003" stroke="#0a0a0a" stroke-width="2.15"/>
<text x="174.9" y="481.3" font-size="5.5" text-anchor="middle" fill="#111" font-family="Liberation Sans, sans-serif" font-weight="bold" stroke="#111" stroke-width="0.32" >0.6</text>
<line x1="230.0" y1="468.8" x2="230.0" y2="472.40000000000003" stroke="#0a0a0a" stroke-width="2.15"/>
<text x="230.0" y="481.3" font-size="5.5" text-anchor="middle" fill="#111" font-family="Liberation Sans, sans-serif" font-weight="bold" stroke="#111" stroke-width="0.32" >0.8</text>
<line x1="285.0" y1="468.8" x2="285.0" y2="472.40000000000003" stroke="#0a0a0a" stroke-width="2.15"/>
<text x="285.0" y="481.3" font-size="5.5" text-anchor="middle" fill="#111" font-family="Liberation Sans, sans-serif" font-weight="bold" stroke="#111" stroke-width="0.32" >1.0</text>
<line x1="22.2" y1="444.8" x2="25.8" y2="444.8" stroke="#0a0a0a" stroke-width="2.15"/>
<text x="19.6" y="444.8" font-size="5.15" text-anchor="middle" fill="#111" font-family="Liberation Sans, sans-serif" font-weight="bold" transform="rotate(-90 19.6 444.8)" stroke="#111" stroke-width="0.32" >0.2</text>
<line x1="22.2" y1="410.6" x2="25.8" y2="410.6" stroke="#0a0a0a" stroke-width="2.15"/>
<text x="19.6" y="410.6" font-size="5.15" text-anchor="middle" fill="#111" font-family="Liberation Sans, sans-serif" font-weight="bold" transform="rotate(-90 19.6 410.6)" stroke="#111" stroke-width="0.32" >0.4</text>
<line x1="22.2" y1="376.4" x2="25.8" y2="376.4" stroke="#0a0a0a" stroke-width="2.15"/>
<text x="19.6" y="376.4" font-size="5.15" text-anchor="middle" fill="#111" font-family="Liberation Sans, sans-serif" font-weight="bold" transform="rotate(-90 19.6 376.4)" stroke="#111" stroke-width="0.32" >0.6</text>
<line x1="22.2" y1="342.3" x2="25.8" y2="342.3" stroke="#0a0a0a" stroke-width="2.15"/>
<text x="19.6" y="342.3" font-size="5.15" text-anchor="middle" fill="#111" font-family="Liberation Sans, sans-serif" font-weight="bold" transform="rotate(-90 19.6 342.3)" stroke="#111" stroke-width="0.32" >0.8</text>
<line x1="22.2" y1="308.1" x2="25.8" y2="308.1" stroke="#0a0a0a" stroke-width="2.15"/>
<text x="19.6" y="308.1" font-size="5.15" text-anchor="middle" fill="#111" font-family="Liberation Sans, sans-serif" font-weight="bold" transform="rotate(-90 19.6 308.1)" stroke="#111" stroke-width="0.32" >1.0</text>
<line x1="22.2" y1="274.0" x2="25.8" y2="274.0" stroke="#0a0a0a" stroke-width="2.15"/>
<text x="19.6" y="274.0" font-size="5.15" text-anchor="middle" fill="#111" font-family="Liberation Sans, sans-serif" font-weight="bold" transform="rotate(-90 19.6 274.0)" stroke="#111" stroke-width="0.32" >1.2</text>
<text x="178.8" y="494.3" font-size="5.5" text-anchor="middle" fill="#111" font-family="Liberation Sans, sans-serif" font-weight="bold" textLength="128.5" lengthAdjust="spacingAndGlyphs" stroke="#111" stroke-width="0.2" >Predicted Probability of 5&#8722;Year Incident MDR&#8722;TB</text>
<text x="6.5" y="357.0" font-size="5.5" text-anchor="middle" fill="#111" font-family="Liberation Sans, sans-serif" font-weight="bold" textLength="130.0" lengthAdjust="spacingAndGlyphs" transform="rotate(-90 6.5 357.0)" stroke="#111" stroke-width="0.2" >Observed Probability of &#160;5-Year &#160;Incident &#160;MDR-TB</text>
<text x="25.8" y="495.6" font-size="4.0" text-anchor="start" fill="#000" font-family="Liberation Sans, sans-serif" font-weight="bold" textLength="83.0" lengthAdjust="spacingAndGlyphs" stroke="#000" stroke-width="0.17" >n=1719 d=573 p=9, 420 subjects per group</text>
<text x="25.8" y="500.8" font-size="4.0" text-anchor="start" fill="#000" font-family="Liberation Sans, sans-serif" font-weight="bold" textLength="19.7" lengthAdjust="spacingAndGlyphs" stroke="#000" stroke-width="0.17" >Gray: ideal</text>
<text x="294.5" y="495.6" font-size="4.0" text-anchor="middle" fill="#000" font-family="Liberation Sans, sans-serif" font-weight="bold" textLength="79.3" lengthAdjust="spacingAndGlyphs" stroke="#000" stroke-width="0.17" >X - resampling optimism added, B=1720</text>
<text x="295.0" y="500.8" font-size="4.0" text-anchor="middle" fill="#000" font-family="Liberation Sans, sans-serif" font-weight="bold" textLength="53.2" lengthAdjust="spacingAndGlyphs" stroke="#000" stroke-width="0.17" >Based on observed&#8722;predicted</text>
<polyline points="55.2,740.8 165.7,679.1 213.7,614.8 249.8,618.9" fill="none" stroke="#b4533c" stroke-width="2.1" stroke-linejoin="round"/>
<path d="M55.2 736.8V743.5M52.1 736.8H58.3M52.1 743.5H58.3" stroke="#1874c6" stroke-width="2.3" fill="none"/>
<path d="M165.7 659.5V695.6M162.6 659.5H168.8M162.6 695.6H168.8" stroke="#1874c6" stroke-width="2.3" fill="none"/>
<path d="M213.7 600.8V628.4M210.6 600.8H216.8M210.6 628.4H216.8" stroke="#1874c6" stroke-width="2.3" fill="none"/>
<path d="M249.8 607.3V629.4M246.7 607.3H252.9M246.7 629.4H252.9" stroke="#1874c6" stroke-width="2.3" fill="none"/>
<line x1="30" y1="738" x2="324.6" y2="571" stroke="#e3e3e3" stroke-width="2.3"/>
<line x1="28.0" y1="550.6" x2="28.0" y2="552.1" stroke="#0a0a0a" stroke-width="1.0"/>
<line x1="29.7" y1="550.6" x2="29.7" y2="552.1" stroke="#0a0a0a" stroke-width="1.0"/>
<line x1="31.4" y1="550.6" x2="31.4" y2="552.2" stroke="#0a0a0a" stroke-width="1.0"/>
<line x1="33.1" y1="550.6" x2="33.1" y2="552.4" stroke="#0a0a0a" stroke-width="1.0"/>
<line x1="34.8" y1="550.6" x2="34.8" y2="552.4" stroke="#0a0a0a" stroke-width="1.0"/>
<line x1="36.5" y1="550.6" x2="36.5" y2="552.2" stroke="#0a0a0a" stroke-width="1.0"/>
<line x1="38.2" y1="550.6" x2="38.2" y2="552.0" stroke="#0a0a0a" stroke-width="1.0"/>
<line x1="39.9" y1="550.6" x2="39.9" y2="552.1" stroke="#0a0a0a" stroke-width="1.0"/>
<line x1="41.6" y1="550.6" x2="41.6" y2="551.9" stroke="#0a0a0a" stroke-width="1.0"/>
<line x1="43.3" y1="550.6" x2="43.3" y2="552.4" stroke="#0a0a0a" stroke-width="1.0"/>
<line x1="45.0" y1="550.6" x2="45.0" y2="552.5" stroke="#0a0a0a" stroke-width="1.0"/>
<line x1="46.7" y1="550.6" x2="46.7" y2="552.2" stroke="#0a0a0a" stroke-width="1.0"/>
<line x1="48.4" y1="550.6" x2="48.4" y2="551.9" stroke="#0a0a0a" stroke-width="1.0"/>
<line x1="50.1" y1="550.6" x2="50.1" y2="552.0" stroke="#0a0a0a" stroke-width="1.0"/>
<line x1="51.8" y1="550.6" x2="51.8" y2="552.2" stroke="#0a0a0a" stroke-width="1.0"/>
<line x1="53.5" y1="550.6" x2="53.5" y2="552.4" stroke="#0a0a0a" stroke-width="1.0"/>
<line x1="55.2" y1="550.6" x2="55.2" y2="552.6" stroke="#0a0a0a" stroke-width="1.0"/>
<line x1="56.9" y1="550.6" x2="56.9" y2="552.2" stroke="#0a0a0a" stroke-width="1.0"/>
<line x1="58.6" y1="550.6" x2="58.6" y2="552.6" stroke="#0a0a0a" stroke-width="1.0"/>
<line x1="60.3" y1="550.6" x2="60.3" y2="552.4" stroke="#0a0a0a" stroke-width="1.0"/>
<line x1="62.0" y1="550.6" x2="62.0" y2="552.2" stroke="#0a0a0a" stroke-width="1.0"/>
<line x1="63.7" y1="550.6" x2="63.7" y2="552.2" stroke="#0a0a0a" stroke-width="1.0"/>
<line x1="65.4" y1="550.6" x2="65.4" y2="552.3" stroke="#0a0a0a" stroke-width="1.0"/>
<line x1="67.1" y1="550.6" x2="67.1" y2="552.5" stroke="#0a0a0a" stroke-width="1.0"/>
<line x1="68.8" y1="550.6" x2="68.8" y2="552.2" stroke="#0a0a0a" stroke-width="1.0"/>
<line x1="70.5" y1="550.6" x2="70.5" y2="552.5" stroke="#0a0a0a" stroke-width="1.0"/>
<line x1="72.2" y1="550.6" x2="72.2" y2="552.3" stroke="#0a0a0a" stroke-width="1.0"/>
<line x1="73.9" y1="550.6" x2="73.9" y2="552.0" stroke="#0a0a0a" stroke-width="1.0"/>
<line x1="75.6" y1="550.6" x2="75.6" y2="552.3" stroke="#0a0a0a" stroke-width="1.0"/>
<line x1="77.3" y1="550.6" x2="77.3" y2="552.5" stroke="#0a0a0a" stroke-width="1.0"/>
<line x1="79.0" y1="550.6" x2="79.0" y2="551.9" stroke="#0a0a0a" stroke-width="1.0"/>
<line x1="80.7" y1="550.6" x2="80.7" y2="552.2" stroke="#0a0a0a" stroke-width="1.0"/>
<line x1="82.4" y1="550.6" x2="82.4" y2="552.2" stroke="#0a0a0a" stroke-width="1.0"/>
<line x1="84.1" y1="550.6" x2="84.1" y2="552.7" stroke="#0a0a0a" stroke-width="1.0"/>
<line x1="85.8" y1="550.6" x2="85.8" y2="552.7" stroke="#0a0a0a" stroke-width="1.0"/>
<line x1="87.5" y1="550.6" x2="87.5" y2="552.2" stroke="#0a0a0a" stroke-width="1.0"/>
<line x1="89.2" y1="550.6" x2="89.2" y2="552.7" stroke="#0a0a0a" stroke-width="1.0"/>
<line x1="90.9" y1="550.6" x2="90.9" y2="552.6" stroke="#0a0a0a" stroke-width="1.0"/>
<line x1="92.6" y1="550.6" x2="92.6" y2="552.1" stroke="#0a0a0a" stroke-width="1.0"/>
<line x1="94.3" y1="550.6" x2="94.3" y2="552.3" stroke="#0a0a0a" stroke-width="1.0"/>
<line x1="96.0" y1="550.6" x2="96.0" y2="551.9" stroke="#0a0a0a" stroke-width="1.0"/>
<line x1="97.7" y1="550.6" x2="97.7" y2="552.6" stroke="#0a0a0a" stroke-width="1.0"/>
<line x1="99.4" y1="550.6" x2="99.4" y2="552.5" stroke="#0a0a0a" stroke-width="1.0"/>
<line x1="101.1" y1="550.6" x2="101.1" y2="552.7" stroke="#0a0a0a" stroke-width="1.0"/>
<line x1="102.8" y1="550.6" x2="102.8" y2="552.6" stroke="#0a0a0a" stroke-width="1.0"/>
<line x1="104.5" y1="550.6" x2="104.5" y2="552.5" stroke="#0a0a0a" stroke-width="1.0"/>
<line x1="106.2" y1="550.6" x2="106.2" y2="552.5" stroke="#0a0a0a" stroke-width="1.0"/>
<line x1="107.9" y1="550.6" x2="107.9" y2="552.4" stroke="#0a0a0a" stroke-width="1.0"/>
<line x1="109.6" y1="550.6" x2="109.6" y2="551.9" stroke="#0a0a0a" stroke-width="1.0"/>
<line x1="111.3" y1="550.6" x2="111.3" y2="552.4" stroke="#0a0a0a" stroke-width="1.0"/>
<line x1="113.0" y1="550.6" x2="113.0" y2="551.8" stroke="#0a0a0a" stroke-width="1.0"/>
<line x1="114.7" y1="550.6" x2="114.7" y2="551.9" stroke="#0a0a0a" stroke-width="1.0"/>
<line x1="116.4" y1="550.6" x2="116.4" y2="552.6" stroke="#0a0a0a" stroke-width="1.0"/>
<line x1="118.1" y1="550.6" x2="118.1" y2="551.8" stroke="#0a0a0a" stroke-width="1.0"/>
<line x1="119.8" y1="550.6" x2="119.8" y2="551.9" stroke="#0a0a0a" stroke-width="1.0"/>
<line x1="121.5" y1="550.6" x2="121.5" y2="551.9" stroke="#0a0a0a" stroke-width="1.0"/>
<line x1="123.2" y1="550.6" x2="123.2" y2="552.7" stroke="#0a0a0a" stroke-width="1.0"/>
<line x1="124.9" y1="550.6" x2="124.9" y2="552.0" stroke="#0a0a0a" stroke-width="1.0"/>
<line x1="126.6" y1="550.6" x2="126.6" y2="551.8" stroke="#0a0a0a" stroke-width="1.0"/>
<line x1="128.3" y1="550.6" x2="128.3" y2="552.6" stroke="#0a0a0a" stroke-width="1.0"/>
<line x1="130.0" y1="550.6" x2="130.0" y2="551.9" stroke="#0a0a0a" stroke-width="1.0"/>
<line x1="131.7" y1="550.6" x2="131.7" y2="552.6" stroke="#0a0a0a" stroke-width="1.0"/>
<line x1="133.4" y1="550.6" x2="133.4" y2="552.5" stroke="#0a0a0a" stroke-width="1.0"/>
<line x1="135.1" y1="550.6" x2="135.1" y2="552.6" stroke="#0a0a0a" stroke-width="1.0"/>
<line x1="136.8" y1="550.6" x2="136.8" y2="552.8" stroke="#0a0a0a" stroke-width="1.0"/>
<line x1="138.5" y1="550.6" x2="138.5" y2="552.4" stroke="#0a0a0a" stroke-width="1.0"/>
<line x1="140.2" y1="550.6" x2="140.2" y2="552.6" stroke="#0a0a0a" stroke-width="1.0"/>
<line x1="141.9" y1="550.6" x2="141.9" y2="551.8" stroke="#0a0a0a" stroke-width="1.0"/>
<line x1="143.6" y1="550.6" x2="143.6" y2="552.6" stroke="#0a0a0a" stroke-width="1.0"/>
<line x1="145.3" y1="550.6" x2="145.3" y2="552.3" stroke="#0a0a0a" stroke-width="1.0"/>
<line x1="147.0" y1="550.6" x2="147.0" y2="552.5" stroke="#0a0a0a" stroke-width="1.0"/>
<line x1="148.7" y1="550.6" x2="148.7" y2="551.9" stroke="#0a0a0a" stroke-width="1.0"/>
<line x1="150.4" y1="550.6" x2="150.4" y2="552.5" stroke="#0a0a0a" stroke-width="1.0"/>
<line x1="152.1" y1="550.6" x2="152.1" y2="552.7" stroke="#0a0a0a" stroke-width="1.0"/>
<line x1="153.8" y1="550.6" x2="153.8" y2="551.9" stroke="#0a0a0a" stroke-width="1.0"/>
<line x1="155.5" y1="550.6" x2="155.5" y2="552.1" stroke="#0a0a0a" stroke-width="1.0"/>
<line x1="157.2" y1="550.6" x2="157.2" y2="552.4" stroke="#0a0a0a" stroke-width="1.0"/>
<line x1="158.9" y1="550.6" x2="158.9" y2="552.6" stroke="#0a0a0a" stroke-width="1.0"/>
<line x1="160.0" y1="550.6" x2="160.0" y2="552.5" stroke="#0a0a0a" stroke-width="1.1"/>
<line x1="161.6" y1="550.6" x2="161.6" y2="552.4" stroke="#0a0a0a" stroke-width="1.1"/>
<line x1="163.2" y1="550.6" x2="163.2" y2="552.5" stroke="#0a0a0a" stroke-width="1.1"/>
<line x1="164.8" y1="550.6" x2="164.8" y2="552.9" stroke="#0a0a0a" stroke-width="1.1"/>
<line x1="166.4" y1="550.6" x2="166.4" y2="553.1" stroke="#0a0a0a" stroke-width="1.1"/>
<line x1="168.0" y1="550.6" x2="168.0" y2="552.7" stroke="#0a0a0a" stroke-width="1.1"/>
<line x1="169.6" y1="550.6" x2="169.6" y2="552.6" stroke="#0a0a0a" stroke-width="1.1"/>
<line x1="171.2" y1="550.6" x2="171.2" y2="552.7" stroke="#0a0a0a" stroke-width="1.1"/>
<line x1="172.8" y1="550.6" x2="172.8" y2="552.6" stroke="#0a0a0a" stroke-width="1.1"/>
<line x1="174.4" y1="550.6" x2="174.4" y2="552.7" stroke="#0a0a0a" stroke-width="1.1"/>
<line x1="176.0" y1="550.6" x2="176.0" y2="552.3" stroke="#0a0a0a" stroke-width="1.1"/>
<line x1="177.6" y1="550.6" x2="177.6" y2="552.8" stroke="#0a0a0a" stroke-width="1.1"/>
<line x1="179.2" y1="550.6" x2="179.2" y2="553.4" stroke="#0a0a0a" stroke-width="1.1"/>
<line x1="180.8" y1="550.6" x2="180.8" y2="552.7" stroke="#0a0a0a" stroke-width="1.1"/>
<line x1="182.4" y1="550.6" x2="182.4" y2="553.1" stroke="#0a0a0a" stroke-width="1.1"/>
<line x1="184.0" y1="550.6" x2="184.0" y2="552.4" stroke="#0a0a0a" stroke-width="1.1"/>
<line x1="185.6" y1="550.6" x2="185.6" y2="553.0" stroke="#0a0a0a" stroke-width="1.1"/>
<line x1="187.2" y1="550.6" x2="187.2" y2="553.1" stroke="#0a0a0a" stroke-width="1.1"/>
<line x1="188.8" y1="550.6" x2="188.8" y2="553.0" stroke="#0a0a0a" stroke-width="1.1"/>
<line x1="190.4" y1="550.6" x2="190.4" y2="552.8" stroke="#0a0a0a" stroke-width="1.1"/>
<line x1="192.0" y1="550.6" x2="192.0" y2="552.8" stroke="#0a0a0a" stroke-width="1.1"/>
<line x1="193.6" y1="550.6" x2="193.6" y2="553.0" stroke="#0a0a0a" stroke-width="1.1"/>
<line x1="195.2" y1="550.6" x2="195.2" y2="553.3" stroke="#0a0a0a" stroke-width="1.1"/>
<line x1="196.8" y1="550.6" x2="196.8" y2="552.4" stroke="#0a0a0a" stroke-width="1.1"/>
<line x1="198.4" y1="550.6" x2="198.4" y2="552.3" stroke="#0a0a0a" stroke-width="1.1"/>
<line x1="200.0" y1="550.6" x2="200.0" y2="553.1" stroke="#0a0a0a" stroke-width="1.1"/>
<line x1="201.6" y1="550.6" x2="201.6" y2="553.3" stroke="#0a0a0a" stroke-width="1.1"/>
<line x1="203.2" y1="550.6" x2="203.2" y2="552.8" stroke="#0a0a0a" stroke-width="1.1"/>
<line x1="204.8" y1="550.6" x2="204.8" y2="552.7" stroke="#0a0a0a" stroke-width="1.1"/>
<line x1="206.4" y1="550.6" x2="206.4" y2="553.1" stroke="#0a0a0a" stroke-width="1.1"/>
<line x1="208.0" y1="550.6" x2="208.0" y2="552.4" stroke="#0a0a0a" stroke-width="1.1"/>
<line x1="209.6" y1="550.6" x2="209.6" y2="552.5" stroke="#0a0a0a" stroke-width="1.1"/>
<line x1="211.2" y1="550.6" x2="211.2" y2="552.4" stroke="#0a0a0a" stroke-width="1.1"/>
<line x1="212.8" y1="550.6" x2="212.8" y2="552.9" stroke="#0a0a0a" stroke-width="1.1"/>
<line x1="214.4" y1="550.6" x2="214.4" y2="552.6" stroke="#0a0a0a" stroke-width="1.1"/>
<line x1="216.0" y1="550.6" x2="216.0" y2="552.5" stroke="#0a0a0a" stroke-width="1.1"/>
<line x1="217.6" y1="550.6" x2="217.6" y2="553.0" stroke="#0a0a0a" stroke-width="1.1"/>
<line x1="219.2" y1="550.6" x2="219.2" y2="553.3" stroke="#0a0a0a" stroke-width="1.1"/>
<line x1="220.8" y1="550.6" x2="220.8" y2="552.6" stroke="#0a0a0a" stroke-width="1.1"/>
<line x1="222.4" y1="550.6" x2="222.4" y2="553.0" stroke="#0a0a0a" stroke-width="1.1"/>
<line x1="224.0" y1="550.6" x2="224.0" y2="552.7" stroke="#0a0a0a" stroke-width="1.1"/>
<line x1="225.6" y1="550.6" x2="225.6" y2="553.2" stroke="#0a0a0a" stroke-width="1.1"/>
<line x1="227.2" y1="550.6" x2="227.2" y2="552.9" stroke="#0a0a0a" stroke-width="1.1"/>
<line x1="228.8" y1="550.6" x2="228.8" y2="552.5" stroke="#0a0a0a" stroke-width="1.1"/>
<line x1="230.4" y1="550.6" x2="230.4" y2="552.5" stroke="#0a0a0a" stroke-width="1.1"/>
<line x1="232.0" y1="550.6" x2="232.0" y2="552.2" stroke="#0a0a0a" stroke-width="1.1"/>
<line x1="233.6" y1="550.6" x2="233.6" y2="552.8" stroke="#0a0a0a" stroke-width="1.1"/>
<line x1="235.2" y1="550.6" x2="235.2" y2="552.7" stroke="#0a0a0a" stroke-width="1.1"/>
<line x1="236.8" y1="550.6" x2="236.8" y2="552.4" stroke="#0a0a0a" stroke-width="1.1"/>
<line x1="238.4" y1="550.6" x2="238.4" y2="552.6" stroke="#0a0a0a" stroke-width="1.1"/>
<line x1="240.0" y1="550.6" x2="240.0" y2="552.6" stroke="#0a0a0a" stroke-width="1.1"/>
<line x1="241.6" y1="550.6" x2="241.6" y2="553.1" stroke="#0a0a0a" stroke-width="1.1"/>
<line x1="243.2" y1="550.6" x2="243.2" y2="552.4" stroke="#0a0a0a" stroke-width="1.1"/>
<line x1="244.8" y1="550.6" x2="244.8" y2="553.4" stroke="#0a0a0a" stroke-width="1.1"/>
<line x1="246.4" y1="550.6" x2="246.4" y2="552.8" stroke="#0a0a0a" stroke-width="1.1"/>
<line x1="248.0" y1="550.6" x2="248.0" y2="552.9" stroke="#0a0a0a" stroke-width="1.1"/>
<line x1="249.6" y1="550.6" x2="249.6" y2="552.8" stroke="#0a0a0a" stroke-width="1.1"/>
<line x1="251.2" y1="550.6" x2="251.2" y2="553.2" stroke="#0a0a0a" stroke-width="1.1"/>
<line x1="252.8" y1="550.6" x2="252.8" y2="553.2" stroke="#0a0a0a" stroke-width="1.1"/>
<line x1="254.4" y1="550.6" x2="254.4" y2="552.9" stroke="#0a0a0a" stroke-width="1.1"/>
<line x1="256.0" y1="550.6" x2="256.0" y2="552.8" stroke="#0a0a0a" stroke-width="1.1"/>
<line x1="257.6" y1="550.6" x2="257.6" y2="553.1" stroke="#0a0a0a" stroke-width="1.1"/>
<line x1="259.2" y1="550.6" x2="259.2" y2="553.2" stroke="#0a0a0a" stroke-width="1.1"/>
<line x1="260.8" y1="550.6" x2="260.8" y2="552.7" stroke="#0a0a0a" stroke-width="1.1"/>
<line x1="262.4" y1="550.6" x2="262.4" y2="553.1" stroke="#0a0a0a" stroke-width="1.1"/>
<line x1="264.0" y1="550.6" x2="264.0" y2="553.4" stroke="#0a0a0a" stroke-width="1.1"/>
<line x1="265.6" y1="550.6" x2="265.6" y2="552.8" stroke="#0a0a0a" stroke-width="1.1"/>
<line x1="267.2" y1="550.6" x2="267.2" y2="552.5" stroke="#0a0a0a" stroke-width="1.1"/>
<line x1="268.8" y1="550.6" x2="268.8" y2="552.5" stroke="#0a0a0a" stroke-width="1.1"/>
<line x1="270.4" y1="550.6" x2="270.4" y2="553.1" stroke="#0a0a0a" stroke-width="1.1"/>
<line x1="272.0" y1="550.6" x2="272.0" y2="553.0" stroke="#0a0a0a" stroke-width="1.1"/>
<line x1="273.6" y1="550.6" x2="273.6" y2="553.4" stroke="#0a0a0a" stroke-width="1.1"/>
<line x1="275.2" y1="550.6" x2="275.2" y2="553.2" stroke="#0a0a0a" stroke-width="1.1"/>
<line x1="276.8" y1="550.6" x2="276.8" y2="552.5" stroke="#0a0a0a" stroke-width="1.1"/>
<line x1="278.4" y1="550.6" x2="278.4" y2="552.4" stroke="#0a0a0a" stroke-width="1.1"/>
<line x1="280.0" y1="550.6" x2="280.0" y2="552.5" stroke="#0a0a0a" stroke-width="1.1"/>
<line x1="280.0" y1="550.6" x2="280.0" y2="551.5" stroke="#0a0a0a" stroke-width="0.9"/>
<line x1="281.8" y1="550.6" x2="281.8" y2="552.0" stroke="#0a0a0a" stroke-width="0.9"/>
<line x1="283.6" y1="550.6" x2="283.6" y2="552.1" stroke="#0a0a0a" stroke-width="0.9"/>
<line x1="285.4" y1="550.6" x2="285.4" y2="552.1" stroke="#0a0a0a" stroke-width="0.9"/>
<line x1="287.2" y1="550.6" x2="287.2" y2="551.6" stroke="#0a0a0a" stroke-width="0.9"/>
<line x1="289.0" y1="550.6" x2="289.0" y2="552.1" stroke="#0a0a0a" stroke-width="0.9"/>
<line x1="290.8" y1="550.6" x2="290.8" y2="551.7" stroke="#0a0a0a" stroke-width="0.9"/>
<line x1="292.6" y1="550.6" x2="292.6" y2="551.7" stroke="#0a0a0a" stroke-width="0.9"/>
<line x1="40.4" y1="550.6" x2="40.4" y2="553.6" stroke="#0a0a0a" stroke-width="1.3"/>
<line x1="45.8" y1="550.6" x2="45.8" y2="553.8" stroke="#0a0a0a" stroke-width="1.3"/>
<line x1="61.9" y1="550.6" x2="61.9" y2="553.6" stroke="#0a0a0a" stroke-width="1.3"/>
<line x1="114.0" y1="550.6" x2="114.0" y2="553.8" stroke="#0a0a0a" stroke-width="1.3"/>
<line x1="141.6" y1="550.6" x2="141.6" y2="553.8" stroke="#0a0a0a" stroke-width="1.3"/>
<line x1="164.1" y1="550.6" x2="164.1" y2="553.8" stroke="#0a0a0a" stroke-width="1.3"/>
<line x1="166.5" y1="550.6" x2="166.5" y2="553.8" stroke="#0a0a0a" stroke-width="1.3"/>
<line x1="182.1" y1="550.6" x2="182.1" y2="555.6" stroke="#0a0a0a" stroke-width="1.3"/>
<line x1="186.6" y1="550.6" x2="186.6" y2="554.6" stroke="#0a0a0a" stroke-width="1.3"/>
<line x1="190.7" y1="550.6" x2="190.7" y2="554.6" stroke="#0a0a0a" stroke-width="1.3"/>
<line x1="198.8" y1="550.6" x2="198.8" y2="561.0" stroke="#0a0a0a" stroke-width="1.3"/>
<line x1="203.9" y1="550.6" x2="203.9" y2="554.4" stroke="#0a0a0a" stroke-width="1.3"/>
<line x1="209.0" y1="550.6" x2="209.0" y2="554.1" stroke="#0a0a0a" stroke-width="1.3"/>
<line x1="216.2" y1="550.6" x2="216.2" y2="554.1" stroke="#0a0a0a" stroke-width="1.3"/>
<line x1="220.9" y1="550.6" x2="220.9" y2="558.9" stroke="#0a0a0a" stroke-width="1.3"/>
<line x1="226.4" y1="550.6" x2="226.4" y2="554.1" stroke="#0a0a0a" stroke-width="1.3"/>
<line x1="231.5" y1="550.6" x2="231.5" y2="555.4" stroke="#0a0a0a" stroke-width="1.3"/>
<line x1="236.6" y1="550.6" x2="236.6" y2="554.6" stroke="#0a0a0a" stroke-width="1.3"/>
<line x1="239.7" y1="550.6" x2="239.7" y2="554.6" stroke="#0a0a0a" stroke-width="1.3"/>
<line x1="242.8" y1="550.6" x2="242.8" y2="554.6" stroke="#0a0a0a" stroke-width="1.3"/>
<line x1="246.9" y1="550.6" x2="246.9" y2="554.6" stroke="#0a0a0a" stroke-width="1.3"/>
<line x1="249.9" y1="550.6" x2="249.9" y2="554.1" stroke="#0a0a0a" stroke-width="1.3"/>
<line x1="254.0" y1="550.6" x2="254.0" y2="554.1" stroke="#0a0a0a" stroke-width="1.3"/>
<line x1="259.1" y1="550.6" x2="259.1" y2="554.6" stroke="#0a0a0a" stroke-width="1.3"/>
<line x1="266.3" y1="550.6" x2="266.3" y2="554.1" stroke="#0a0a0a" stroke-width="1.3"/>
<line x1="275.5" y1="550.6" x2="275.5" y2="553.6" stroke="#0a0a0a" stroke-width="1.3"/>
<path d="M53.1 739.0L57.3 742.6M53.1 742.6L57.3 739.0" stroke="#0a1cff" stroke-width="1.4" fill="none"/>
<rect x="53.7" y="739.3" width="3.0" height="3.0" fill="#0a1cff"/>
<path d="M163.6 677.3L167.8 680.9M163.6 680.9L167.8 677.3" stroke="#0a1cff" stroke-width="1.4" fill="none"/>
<rect x="164.2" y="677.6" width="3.0" height="3.0" fill="#0a1cff"/>
<path d="M211.6 613.0L215.8 616.6M211.6 616.6L215.8 613.0" stroke="#0a1cff" stroke-width="1.4" fill="none"/>
<rect x="212.2" y="613.3" width="3.0" height="3.0" fill="#0a1cff"/>
<path d="M247.7 617.1L251.9 620.7M247.7 620.7L251.9 617.1" stroke="#0a1cff" stroke-width="1.4" fill="none"/>
<rect x="248.3" y="617.4" width="3.0" height="3.0" fill="#0a1cff"/>
<rect x="26.2" y="550.6" width="298.4" height="201.8" fill="none" stroke="#0a0a0a" stroke-width="2.05"/>
<line x1="65.3" y1="752.4" x2="65.3" y2="756.0" stroke="#0a0a0a" stroke-width="2.05"/>
<text x="65.3" y="764.8" font-size="5.5" text-anchor="middle" fill="#111" font-family="Liberation Sans, sans-serif" font-weight="bold" stroke="#111" stroke-width="0.32" >0.2</text>
<line x1="120.5" y1="752.4" x2="120.5" y2="756.0" stroke="#0a0a0a" stroke-width="2.05"/>
<text x="120.5" y="764.8" font-size="5.5" text-anchor="middle" fill="#111" font-family="Liberation Sans, sans-serif" font-weight="bold" stroke="#111" stroke-width="0.32" >0.4</text>
<line x1="175.7" y1="752.4" x2="175.7" y2="756.0" stroke="#0a0a0a" stroke-width="2.05"/>
<text x="175.7" y="764.8" font-size="5.5" text-anchor="middle" fill="#111" font-family="Liberation Sans, sans-serif" font-weight="bold" stroke="#111" stroke-width="0.32" >0.6</text>
<line x1="230.9" y1="752.4" x2="230.9" y2="756.0" stroke="#0a0a0a" stroke-width="2.05"/>
<text x="230.9" y="764.8" font-size="5.5" text-anchor="middle" fill="#111" font-family="Liberation Sans, sans-serif" font-weight="bold" stroke="#111" stroke-width="0.32" >0.8</text>
<line x1="286.1" y1="752.4" x2="286.1" y2="756.0" stroke="#0a0a0a" stroke-width="2.05"/>
<text x="286.1" y="764.8" font-size="5.5" text-anchor="middle" fill="#111" font-family="Liberation Sans, sans-serif" font-weight="bold" stroke="#111" stroke-width="0.32" >1.0</text>
<line x1="22.599999999999998" y1="745.3" x2="26.2" y2="745.3" stroke="#0a0a0a" stroke-width="2.05"/>
<text x="20.0" y="745.3" font-size="5.15" text-anchor="middle" fill="#111" font-family="Liberation Sans, sans-serif" font-weight="bold" transform="rotate(-90 20.0 745.3)" stroke="#111" stroke-width="0.32" >0.0</text>
<line x1="22.599999999999998" y1="714.0" x2="26.2" y2="714.0" stroke="#0a0a0a" stroke-width="2.05"/>
<text x="20.0" y="714.0" font-size="5.15" text-anchor="middle" fill="#111" font-family="Liberation Sans, sans-serif" font-weight="bold" transform="rotate(-90 20.0 714.0)" stroke="#111" stroke-width="0.32" >0.2</text>
<line x1="22.599999999999998" y1="682.7" x2="26.2" y2="682.7" stroke="#0a0a0a" stroke-width="2.05"/>
<text x="20.0" y="682.7" font-size="5.15" text-anchor="middle" fill="#111" font-family="Liberation Sans, sans-serif" font-weight="bold" transform="rotate(-90 20.0 682.7)" stroke="#111" stroke-width="0.32" >0.4</text>
<line x1="22.599999999999998" y1="651.5" x2="26.2" y2="651.5" stroke="#0a0a0a" stroke-width="2.05"/>
<text x="20.0" y="651.5" font-size="5.15" text-anchor="middle" fill="#111" font-family="Liberation Sans, sans-serif" font-weight="bold" transform="rotate(-90 20.0 651.5)" stroke="#111" stroke-width="0.32" >0.6</text>
<line x1="22.599999999999998" y1="620.2" x2="26.2" y2="620.2" stroke="#0a0a0a" stroke-width="2.05"/>
<text x="20.0" y="620.2" font-size="5.15" text-anchor="middle" fill="#111" font-family="Liberation Sans, sans-serif" font-weight="bold" transform="rotate(-90 20.0 620.2)" stroke="#111" stroke-width="0.32" >0.8</text>
<line x1="22.599999999999998" y1="588.9" x2="26.2" y2="588.9" stroke="#0a0a0a" stroke-width="2.05"/>
<text x="20.0" y="588.9" font-size="5.15" text-anchor="middle" fill="#111" font-family="Liberation Sans, sans-serif" font-weight="bold" transform="rotate(-90 20.0 588.9)" stroke="#111" stroke-width="0.32" >1.0</text>
<line x1="22.599999999999998" y1="557.6" x2="26.2" y2="557.6" stroke="#0a0a0a" stroke-width="2.05"/>
<text x="20.0" y="557.6" font-size="5.15" text-anchor="middle" fill="#111" font-family="Liberation Sans, sans-serif" font-weight="bold" transform="rotate(-90 20.0 557.6)" stroke="#111" stroke-width="0.32" >1.2</text>
<text x="178.8" y="777.9" font-size="5.5" text-anchor="middle" fill="#111" font-family="Liberation Sans, sans-serif" font-weight="bold" textLength="129.5" lengthAdjust="spacingAndGlyphs" stroke="#111" stroke-width="0.2" >Predicted Probability of 10-Year Incident &#160;MDR-TB</text>
<text x="6.5" y="638.5" font-size="5.5" text-anchor="middle" fill="#111" font-family="Liberation Sans, sans-serif" font-weight="bold" textLength="133.0" lengthAdjust="spacingAndGlyphs" transform="rotate(-90 6.5 638.5)" stroke="#111" stroke-width="0.2" >Observed Probability of &#160;10-Year &#160;Incident &#160;MDR-TB</text>
<text x="26.2" y="779.4" font-size="4.0" text-anchor="start" fill="#000" font-family="Liberation Sans, sans-serif" font-weight="bold" textLength="85.0" lengthAdjust="spacingAndGlyphs" stroke="#000" stroke-width="0.17" >n=1719 d=573 p=10, 420 subjects per group</text>
<text x="26.2" y="784.3" font-size="4.0" text-anchor="start" fill="#000" font-family="Liberation Sans, sans-serif" font-weight="bold" textLength="19.7" lengthAdjust="spacingAndGlyphs" stroke="#000" stroke-width="0.17" >Gray: ideal</text>
<text x="295.5" y="779.4" font-size="4.0" text-anchor="middle" fill="#000" font-family="Liberation Sans, sans-serif" font-weight="bold" textLength="79.3" lengthAdjust="spacingAndGlyphs" stroke="#000" stroke-width="0.17" >X - resampling optimism added, B=1720</text>
<text x="296.0" y="784.3" font-size="4.0" text-anchor="middle" fill="#000" font-family="Liberation Sans, sans-serif" font-weight="bold" textLength="53.2" lengthAdjust="spacingAndGlyphs" stroke="#000" stroke-width="0.17" >Based on observed-predicted</text>
<polyline points="464.5,154.1 598.4,77.8 623.5,50.2" fill="none" stroke="#b4533c" stroke-width="1.9" stroke-linejoin="round"/>
<path d="M462.5 117.3V178.9M459.3 117.3H465.7M459.3 178.9H465.7" stroke="#1874c6" stroke-width="2.1" fill="none"/>
<path d="M596.6 51.2V101.9M593.4 51.2H599.8M593.4 101.9H599.8" stroke="#1874c6" stroke-width="2.1" fill="none"/>
<path d="M624.2 43.7V60.8M621.0 43.7H627.4M621.0 60.8H627.4" stroke="#1874c6" stroke-width="2.1" fill="none"/>
<line x1="376.1" y1="185.7" x2="674.2" y2="21.1" stroke="#e3e3e3" stroke-width="1.8"/>
<line x1="386.4" y1="2" x2="386.4" y2="6.2" stroke="#0a0a0a" stroke-width="2.2"/>
<line x1="392.0" y1="2" x2="392.0" y2="6.2" stroke="#0a0a0a" stroke-width="1.5"/>
<line x1="394.8" y1="2" x2="394.8" y2="6.2" stroke="#0a0a0a" stroke-width="1.5"/>
<line x1="409.3" y1="2" x2="409.3" y2="6.2" stroke="#0a0a0a" stroke-width="1.5"/>
<line x1="412.5" y1="2" x2="412.5" y2="6.2" stroke="#0a0a0a" stroke-width="1.5"/>
<line x1="442.0" y1="2" x2="442.0" y2="6.2" stroke="#0a0a0a" stroke-width="1.4"/>
<line x1="450.6" y1="2" x2="450.6" y2="6.2" stroke="#0a0a0a" stroke-width="1.5"/>
<line x1="453.6" y1="2" x2="453.6" y2="6.2" stroke="#0a0a0a" stroke-width="1.5"/>
<line x1="458.3" y1="2" x2="458.3" y2="6.2" stroke="#0a0a0a" stroke-width="2.0"/>
<line x1="461.6" y1="2" x2="461.6" y2="6.2" stroke="#0a0a0a" stroke-width="2.0"/>
<line x1="469.3" y1="2" x2="469.3" y2="6.2" stroke="#0a0a0a" stroke-width="2.2"/>
<line x1="471.6" y1="2" x2="471.6" y2="6.2" stroke="#0a0a0a" stroke-width="1.8"/>
<line x1="474.2" y1="2" x2="474.2" y2="6.2" stroke="#0a0a0a" stroke-width="1.6"/>
<line x1="477.0" y1="2" x2="477.0" y2="6.2" stroke="#0a0a0a" stroke-width="1.6"/>
<line x1="504.3" y1="2" x2="504.3" y2="6.2" stroke="#0a0a0a" stroke-width="1.4"/>
<line x1="514.9" y1="2" x2="514.9" y2="6.2" stroke="#0a0a0a" stroke-width="1.4"/>
<line x1="526.5" y1="2" x2="526.5" y2="6.2" stroke="#0a0a0a" stroke-width="1.4"/>
<line x1="527.1" y1="2" x2="527.1" y2="6.2" stroke="#0a0a0a" stroke-width="1.5"/>
<line x1="565.2" y1="2" x2="565.2" y2="6.2" stroke="#0a0a0a" stroke-width="1.5"/>
<line x1="543.6" y1="2" x2="543.6" y2="6.2" stroke="#0a0a0a" stroke-width="2.0"/>
<line x1="548.7" y1="2" x2="548.7" y2="6.2" stroke="#0a0a0a" stroke-width="2.0"/>
<line x1="573.3" y1="2" x2="573.3" y2="6.2" stroke="#0a0a0a" stroke-width="1.7"/>
<line x1="576.3" y1="2" x2="576.3" y2="6.2" stroke="#0a0a0a" stroke-width="1.7"/>
<line x1="578.8" y1="2" x2="578.8" y2="6.2" stroke="#0a0a0a" stroke-width="1.7"/>
<line x1="581.3" y1="2" x2="581.3" y2="6.2" stroke="#0a0a0a" stroke-width="1.7"/>
<line x1="583.8" y1="2" x2="583.8" y2="6.2" stroke="#0a0a0a" stroke-width="1.7"/>
<line x1="586.3" y1="2" x2="586.3" y2="6.2" stroke="#0a0a0a" stroke-width="1.7"/>
<line x1="588.8" y1="2" x2="588.8" y2="6.2" stroke="#0a0a0a" stroke-width="1.7"/>
<line x1="591.3" y1="2" x2="591.3" y2="6.2" stroke="#0a0a0a" stroke-width="1.7"/>
<line x1="593.3" y1="2" x2="593.3" y2="6.2" stroke="#0a0a0a" stroke-width="1.7"/>
<line x1="600.9" y1="2" x2="600.9" y2="6.5" stroke="#0a0a0a" stroke-width="1.4"/>
<line x1="601.6" y1="2" x2="601.6" y2="6.5" stroke="#0a0a0a" stroke-width="1.4"/>
<line x1="602.4" y1="2" x2="602.4" y2="6.5" stroke="#0a0a0a" stroke-width="1.4"/>
<line x1="603.1" y1="2" x2="603.1" y2="6.5" stroke="#0a0a0a" stroke-width="1.4"/>
<line x1="603.9" y1="2" x2="603.9" y2="6.5" stroke="#0a0a0a" stroke-width="1.4"/>
<line x1="604.6" y1="2" x2="604.6" y2="6.5" stroke="#0a0a0a" stroke-width="1.4"/>
<line x1="605.4" y1="2" x2="605.4" y2="6.5" stroke="#0a0a0a" stroke-width="1.4"/>
<line x1="606.1" y1="2" x2="606.1" y2="6.5" stroke="#0a0a0a" stroke-width="1.4"/>
<line x1="606.9" y1="2" x2="606.9" y2="6.5" stroke="#0a0a0a" stroke-width="1.4"/>
<line x1="607.7" y1="2" x2="607.7" y2="6.5" stroke="#0a0a0a" stroke-width="1.4"/>
<line x1="608.4" y1="2" x2="608.4" y2="6.5" stroke="#0a0a0a" stroke-width="1.4"/>
<line x1="609.2" y1="2" x2="609.2" y2="6.5" stroke="#0a0a0a" stroke-width="1.4"/>
<line x1="609.9" y1="2" x2="609.9" y2="6.5" stroke="#0a0a0a" stroke-width="1.4"/>
<line x1="610.7" y1="2" x2="610.7" y2="6.5" stroke="#0a0a0a" stroke-width="1.4"/>
<line x1="611.4" y1="2" x2="611.4" y2="6.5" stroke="#0a0a0a" stroke-width="1.4"/>
<line x1="612.2" y1="2" x2="612.2" y2="6.5" stroke="#0a0a0a" stroke-width="1.4"/>
<line x1="612.9" y1="2" x2="612.9" y2="6.5" stroke="#0a0a0a" stroke-width="1.4"/>
<line x1="613.7" y1="2" x2="613.7" y2="6.5" stroke="#0a0a0a" stroke-width="1.4"/>
<line x1="615.4" y1="2" x2="615.4" y2="6.5" stroke="#0a0a0a" stroke-width="1.4"/>
<line x1="616.2" y1="2" x2="616.2" y2="6.5" stroke="#0a0a0a" stroke-width="1.4"/>
<line x1="616.9" y1="2" x2="616.9" y2="6.5" stroke="#0a0a0a" stroke-width="1.4"/>
<line x1="617.7" y1="2" x2="617.7" y2="6.5" stroke="#0a0a0a" stroke-width="1.4"/>
<line x1="618.4" y1="2" x2="618.4" y2="6.5" stroke="#0a0a0a" stroke-width="1.4"/>
<line x1="619.2" y1="2" x2="619.2" y2="6.5" stroke="#0a0a0a" stroke-width="1.4"/>
<line x1="620.0" y1="2" x2="620.0" y2="6.5" stroke="#0a0a0a" stroke-width="1.4"/>
<line x1="620.7" y1="2" x2="620.7" y2="6.5" stroke="#0a0a0a" stroke-width="1.4"/>
<line x1="621.5" y1="2" x2="621.5" y2="6.5" stroke="#0a0a0a" stroke-width="1.4"/>
<line x1="622.2" y1="2" x2="622.2" y2="6.5" stroke="#0a0a0a" stroke-width="1.4"/>
<line x1="623.0" y1="2" x2="623.0" y2="6.5" stroke="#0a0a0a" stroke-width="1.4"/>
<line x1="623.7" y1="2" x2="623.7" y2="6.5" stroke="#0a0a0a" stroke-width="1.4"/>
<line x1="624.5" y1="2" x2="624.5" y2="6.5" stroke="#0a0a0a" stroke-width="1.4"/>
<line x1="625.2" y1="2" x2="625.2" y2="6.5" stroke="#0a0a0a" stroke-width="1.4"/>
<line x1="626.0" y1="2" x2="626.0" y2="6.5" stroke="#0a0a0a" stroke-width="1.4"/>
<line x1="626.7" y1="2" x2="626.7" y2="6.5" stroke="#0a0a0a" stroke-width="1.4"/>
<line x1="627.5" y1="2" x2="627.5" y2="6.5" stroke="#0a0a0a" stroke-width="1.4"/>
<line x1="628.2" y1="2" x2="628.2" y2="6.5" stroke="#0a0a0a" stroke-width="1.4"/>
<line x1="629.0" y1="2" x2="629.0" y2="6.5" stroke="#0a0a0a" stroke-width="1.4"/>
<line x1="629.7" y1="2" x2="629.7" y2="6.5" stroke="#0a0a0a" stroke-width="1.4"/>
<line x1="630.5" y1="2" x2="630.5" y2="6.5" stroke="#0a0a0a" stroke-width="1.4"/>
<line x1="631.3" y1="2" x2="631.3" y2="6.5" stroke="#0a0a0a" stroke-width="1.4"/>
<line x1="632.0" y1="2" x2="632.0" y2="6.5" stroke="#0a0a0a" stroke-width="1.4"/>
<line x1="632.8" y1="2" x2="632.8" y2="6.5" stroke="#0a0a0a" stroke-width="1.4"/>
<line x1="633.5" y1="2" x2="633.5" y2="6.5" stroke="#0a0a0a" stroke-width="1.4"/>
<line x1="634.3" y1="2" x2="634.3" y2="6.5" stroke="#0a0a0a" stroke-width="1.4"/>
<path d="M460.6 141.0L464.4 144.2M460.6 144.2L464.4 141.0" stroke="#0a1cff" stroke-width="1.4" fill="none"/>
<rect x="461.1" y="141.2" width="2.8" height="2.8" fill="#0a1cff"/>
<path d="M594.7 80.2L598.5 83.4M594.7 83.4L598.5 80.2" stroke="#0a1cff" stroke-width="1.4" fill="none"/>
<rect x="595.2" y="80.4" width="2.8" height="2.8" fill="#0a1cff"/>
<path d="M622.3 55.6L626.1 58.8M622.3 58.8L626.1 55.6" stroke="#0a1cff" stroke-width="1.4" fill="none"/>
<rect x="622.8" y="55.8" width="2.8" height="2.8" fill="#0a1cff"/>
<path d="M628.6 43.6L632.4 46.8M628.6 46.8L632.4 43.6" stroke="#0a1cff" stroke-width="1.4" fill="none"/>
<rect x="629.1" y="43.8" width="2.8" height="2.8" fill="#0a1cff"/>
<rect x="376.1" y="2" width="298.1" height="202.3" fill="none" stroke="#0a0a0a" stroke-width="2.05"/>
<line x1="387.7" y1="204.3" x2="387.7" y2="207.9" stroke="#0a0a0a" stroke-width="2.05"/>
<text x="387.7" y="216.8" font-size="5.5" text-anchor="middle" fill="#111" font-family="Liberation Sans, sans-serif" font-weight="bold" stroke="#111" stroke-width="0.32" >0.2</text>
<line x1="448.9" y1="204.3" x2="448.9" y2="207.9" stroke="#0a0a0a" stroke-width="2.05"/>
<text x="448.9" y="216.8" font-size="5.5" text-anchor="middle" fill="#111" font-family="Liberation Sans, sans-serif" font-weight="bold" stroke="#111" stroke-width="0.32" >0.4</text>
<line x1="510.1" y1="204.3" x2="510.1" y2="207.9" stroke="#0a0a0a" stroke-width="2.05"/>
<text x="510.1" y="216.8" font-size="5.5" text-anchor="middle" fill="#111" font-family="Liberation Sans, sans-serif" font-weight="bold" stroke="#111" stroke-width="0.32" >0.6</text>
<line x1="571.3" y1="204.3" x2="571.3" y2="207.9" stroke="#0a0a0a" stroke-width="2.05"/>
<text x="571.3" y="216.8" font-size="5.5" text-anchor="middle" fill="#111" font-family="Liberation Sans, sans-serif" font-weight="bold" stroke="#111" stroke-width="0.32" >0.8</text>
<line x1="632.5" y1="204.3" x2="632.5" y2="207.9" stroke="#0a0a0a" stroke-width="2.05"/>
<text x="632.5" y="216.8" font-size="5.5" text-anchor="middle" fill="#111" font-family="Liberation Sans, sans-serif" font-weight="bold" stroke="#111" stroke-width="0.32" >1.0</text>
<line x1="372.5" y1="180.0" x2="376.1" y2="180.0" stroke="#0a0a0a" stroke-width="2.05"/>
<text x="369.0" y="180.0" font-size="5.15" text-anchor="middle" fill="#111" font-family="Liberation Sans, sans-serif" font-weight="bold" transform="rotate(-90 369.0 180.0)" stroke="#111" stroke-width="0.32" >0.2</text>
<line x1="372.5" y1="145.9" x2="376.1" y2="145.9" stroke="#0a0a0a" stroke-width="2.05"/>
<text x="369.0" y="145.9" font-size="5.15" text-anchor="middle" fill="#111" font-family="Liberation Sans, sans-serif" font-weight="bold" transform="rotate(-90 369.0 145.9)" stroke="#111" stroke-width="0.32" >0.4</text>
<line x1="372.5" y1="111.8" x2="376.1" y2="111.8" stroke="#0a0a0a" stroke-width="2.05"/>
<text x="369.0" y="111.8" font-size="5.15" text-anchor="middle" fill="#111" font-family="Liberation Sans, sans-serif" font-weight="bold" transform="rotate(-90 369.0 111.8)" stroke="#111" stroke-width="0.32" >0.6</text>
<line x1="372.5" y1="77.7" x2="376.1" y2="77.7" stroke="#0a0a0a" stroke-width="2.05"/>
<text x="369.0" y="77.7" font-size="5.15" text-anchor="middle" fill="#111" font-family="Liberation Sans, sans-serif" font-weight="bold" transform="rotate(-90 369.0 77.7)" stroke="#111" stroke-width="0.32" >0.8</text>
<line x1="372.5" y1="43.6" x2="376.1" y2="43.6" stroke="#0a0a0a" stroke-width="2.05"/>
<text x="369.0" y="43.6" font-size="5.15" text-anchor="middle" fill="#111" font-family="Liberation Sans, sans-serif" font-weight="bold" transform="rotate(-90 369.0 43.6)" stroke="#111" stroke-width="0.32" >1.0</text>
<line x1="372.5" y1="9.5" x2="376.1" y2="9.5" stroke="#0a0a0a" stroke-width="2.05"/>
<text x="369.0" y="9.5" font-size="5.15" text-anchor="middle" fill="#111" font-family="Liberation Sans, sans-serif" font-weight="bold" transform="rotate(-90 369.0 9.5)" stroke="#111" stroke-width="0.32" >1.2</text>
<text x="529.1" y="229.8" font-size="5.5" text-anchor="middle" fill="#111" font-family="Liberation Sans, sans-serif" font-weight="bold" textLength="129.3" lengthAdjust="spacingAndGlyphs" stroke="#111" stroke-width="0.2" >Predicted Probability of 1&#8722;Year Incident MDR&#8722;TB</text>
<text x="355.0" y="84.0" font-size="5.5" text-anchor="middle" fill="#111" font-family="Liberation Sans, sans-serif" font-weight="bold" textLength="128.0" lengthAdjust="spacingAndGlyphs" transform="rotate(-90 355.0 84.0)" stroke="#111" stroke-width="0.2" >Observed Probability of 1-Year Incident MDR-TB</text>
<text x="376.1" y="231.2" font-size="4.0" text-anchor="start" fill="#000" font-family="Liberation Sans, sans-serif" font-weight="bold" textLength="76.0" lengthAdjust="spacingAndGlyphs" stroke="#000" stroke-width="0.17" >n=117 d=39 p=9, 29 subjects per group</text>
<text x="376.1" y="236.2" font-size="4.0" text-anchor="start" fill="#000" font-family="Liberation Sans, sans-serif" font-weight="bold" textLength="19.7" lengthAdjust="spacingAndGlyphs" stroke="#000" stroke-width="0.17" >Gray: ideal</text>
<text x="646.5" y="231.2" font-size="4.0" text-anchor="middle" fill="#000" font-family="Liberation Sans, sans-serif" font-weight="bold" textLength="78.0" lengthAdjust="spacingAndGlyphs" stroke="#000" stroke-width="0.17" >X - resampling optimism added, B=120</text>
<text x="645.5" y="236.2" font-size="4.0" text-anchor="middle" fill="#000" font-family="Liberation Sans, sans-serif" font-weight="bold" textLength="53.2" lengthAdjust="spacingAndGlyphs" stroke="#000" stroke-width="0.17" >Based on observed-predicted</text>
<polyline points="389.7,436.7 556.7,329.3 632.5,290.2 661.1,271.1" fill="none" stroke="#b4533c" stroke-width="2.0" stroke-linejoin="round"/>
<path d="M387.2 395.0V457.3M384.0 395.0H390.4M384.0 457.3H390.4" stroke="#234ca6" stroke-width="2.0" fill="none"/>
<path d="M556.7 288.6V358.9M553.5 288.6H559.9M553.5 358.9H559.9" stroke="#234ca6" stroke-width="2.0" fill="none"/>
<path d="M632.5 270.1V315.3M629.3 270.1H635.7M629.3 315.3H635.7" stroke="#234ca6" stroke-width="2.0" fill="none"/>
<path d="M663.1 270.2V270.2M659.9 270.2H666.3M659.9 270.2H666.3" stroke="#234ca6" stroke-width="2.0" fill="none"/>
<line x1="376.1" y1="437.7" x2="674.2" y2="269" stroke="#e3e3e3" stroke-width="2.0"/>
<line x1="378.9" y1="262" x2="378.9" y2="266.8" stroke="#0a0a0a" stroke-width="2.4"/>
<line x1="386.8" y1="262" x2="386.8" y2="266.8" stroke="#0a0a0a" stroke-width="2.4"/>
<line x1="391.5" y1="262" x2="391.5" y2="266.8" stroke="#0a0a0a" stroke-width="1.8"/>
<line x1="393.6" y1="262" x2="393.6" y2="266.8" stroke="#0a0a0a" stroke-width="1.8"/>
<line x1="418.6" y1="262" x2="418.6" y2="266.8" stroke="#0a0a0a" stroke-width="1.6"/>
<line x1="426.5" y1="262" x2="426.5" y2="266.8" stroke="#0a0a0a" stroke-width="1.6"/>
<line x1="444.3" y1="262" x2="444.3" y2="266.8" stroke="#0a0a0a" stroke-width="1.5"/>
<line x1="464.6" y1="262" x2="464.6" y2="266.8" stroke="#0a0a0a" stroke-width="2.3"/>
<line x1="469.3" y1="262" x2="469.3" y2="266.8" stroke="#0a0a0a" stroke-width="1.6"/>
<line x1="497.3" y1="262" x2="497.3" y2="266.8" stroke="#0a0a0a" stroke-width="1.5"/>
<line x1="505.5" y1="262" x2="505.5" y2="266.8" stroke="#0a0a0a" stroke-width="2.3"/>
<line x1="518.4" y1="262" x2="518.4" y2="266.8" stroke="#0a0a0a" stroke-width="1.6"/>
<line x1="521.9" y1="262" x2="521.9" y2="266.8" stroke="#0a0a0a" stroke-width="2.3"/>
<line x1="527.7" y1="262" x2="527.7" y2="266.8" stroke="#0a0a0a" stroke-width="2.6"/>
<line x1="535.0" y1="262" x2="535.0" y2="266.8" stroke="#0a0a0a" stroke-width="2.3364485981308007"/>
<line x1="540.0" y1="262" x2="540.0" y2="266.8" stroke="#0a0a0a" stroke-width="1.8691588785046633"/>
<line x1="544.9" y1="262" x2="544.9" y2="266.8" stroke="#0a0a0a" stroke-width="3.2710280373830756"/>
<line x1="565.9" y1="262" x2="565.9" y2="266.8" stroke="#0a0a0a" stroke-width="2.3364485981308007"/>
<line x1="569.5" y1="262" x2="569.5" y2="266.8" stroke="#0a0a0a" stroke-width="2.102803738317789"/>
<line x1="574.1" y1="262" x2="574.1" y2="266.8" stroke="#0a0a0a" stroke-width="2.3364485981309144"/>
<line x1="579.9" y1="262" x2="579.9" y2="266.8" stroke="#0a0a0a" stroke-width="4.672897196261715"/>
<line x1="587.3" y1="262" x2="587.3" y2="266.8" stroke="#0a0a0a" stroke-width="2.102803738317789"/>
<line x1="596.5" y1="262" x2="596.5" y2="266.8" stroke="#0a0a0a" stroke-width="2.803738317756938"/>
<line x1="600.0" y1="262" x2="600.0" y2="266.8" stroke="#0a0a0a" stroke-width="1.8691588785046633"/>
<line x1="608.2" y1="262" x2="608.2" y2="266.8" stroke="#0a0a0a" stroke-width="2.803738317757052"/>
<line x1="612.1" y1="262" x2="612.1" y2="266.8" stroke="#0a0a0a" stroke-width="2.3364485981308007"/>
<line x1="616.1" y1="262" x2="616.1" y2="266.8" stroke="#0a0a0a" stroke-width="2.3364485981308007"/>
<line x1="622.1" y1="262" x2="622.1" y2="266.8" stroke="#0a0a0a" stroke-width="7.2429906542056415"/>
<line x1="631.1" y1="262" x2="631.1" y2="266.8" stroke="#0a0a0a" stroke-width="7.476635514018767"/>
<line x1="638.1" y1="262" x2="638.1" y2="266.8" stroke="#0a0a0a" stroke-width="2.803738317756938"/>
<line x1="646.5" y1="262" x2="646.5" y2="266.8" stroke="#0a0a0a" stroke-width="7.009345794392516"/>
<line x1="662.1" y1="262" x2="662.1" y2="266.8" stroke="#0a0a0a" stroke-width="18.22429906542061"/>
<path d="M385.4 427.7L389.0 430.7M385.4 430.7L389.0 427.7" stroke="#0a1cff" stroke-width="1.4" fill="none"/>
<rect x="385.5" y="427.5" width="3.4" height="3.4" fill="#0a1cff"/>
<path d="M554.9 331.3L558.5 334.3M554.9 334.3L558.5 331.3" stroke="#0a1cff" stroke-width="1.4" fill="none"/>
<rect x="555.0" y="331.1" width="3.4" height="3.4" fill="#0a1cff"/>
<path d="M630.7 300.2L634.3 303.2M630.7 303.2L634.3 300.2" stroke="#0a1cff" stroke-width="1.4" fill="none"/>
<rect x="630.8" y="300.0" width="3.4" height="3.4" fill="#0a1cff"/>
<path d="M661.3 272.6L664.9 275.6M661.3 275.6L664.9 272.6" stroke="#0a1cff" stroke-width="1.4" fill="none"/>
<rect x="661.4" y="272.4" width="3.4" height="3.4" fill="#0a1cff"/>
<rect x="376.1" y="262" width="298.1" height="202.3" fill="none" stroke="#0a0a0a" stroke-width="2.05"/>
<line x1="385.9" y1="464.3" x2="385.9" y2="467.90000000000003" stroke="#0a0a0a" stroke-width="2.05"/>
<text x="385.9" y="476.3" font-size="5.5" text-anchor="middle" fill="#111" font-family="Liberation Sans, sans-serif" font-weight="bold" stroke="#111" stroke-width="0.32" >0.2</text>
<line x1="458.1" y1="464.3" x2="458.1" y2="467.90000000000003" stroke="#0a0a0a" stroke-width="2.05"/>
<text x="458.1" y="476.3" font-size="5.5" text-anchor="middle" fill="#111" font-family="Liberation Sans, sans-serif" font-weight="bold" stroke="#111" stroke-width="0.32" >0.4</text>
<line x1="530.2" y1="464.3" x2="530.2" y2="467.90000000000003" stroke="#0a0a0a" stroke-width="2.05"/>
<text x="530.2" y="476.3" font-size="5.5" text-anchor="middle" fill="#111" font-family="Liberation Sans, sans-serif" font-weight="bold" stroke="#111" stroke-width="0.32" >0.6</text>
<line x1="602.4" y1="464.3" x2="602.4" y2="467.90000000000003" stroke="#0a0a0a" stroke-width="2.05"/>
<text x="602.4" y="476.3" font-size="5.5" text-anchor="middle" fill="#111" font-family="Liberation Sans, sans-serif" font-weight="bold" stroke="#111" stroke-width="0.32" >0.8</text>
<line x1="372.5" y1="432.2" x2="376.1" y2="432.2" stroke="#0a0a0a" stroke-width="2.05"/>
<text x="369.0" y="432.2" font-size="5.15" text-anchor="middle" fill="#111" font-family="Liberation Sans, sans-serif" font-weight="bold" transform="rotate(-90 369.0 432.2)" stroke="#111" stroke-width="0.32" >0.2</text>
<line x1="372.5" y1="391.6" x2="376.1" y2="391.6" stroke="#0a0a0a" stroke-width="2.05"/>
<text x="369.0" y="391.6" font-size="5.15" text-anchor="middle" fill="#111" font-family="Liberation Sans, sans-serif" font-weight="bold" transform="rotate(-90 369.0 391.6)" stroke="#111" stroke-width="0.32" >0.4</text>
<line x1="372.5" y1="350.9" x2="376.1" y2="350.9" stroke="#0a0a0a" stroke-width="2.05"/>
<text x="369.0" y="350.9" font-size="5.15" text-anchor="middle" fill="#111" font-family="Liberation Sans, sans-serif" font-weight="bold" transform="rotate(-90 369.0 350.9)" stroke="#111" stroke-width="0.32" >0.6</text>
<line x1="372.5" y1="310.3" x2="376.1" y2="310.3" stroke="#0a0a0a" stroke-width="2.05"/>
<text x="369.0" y="310.3" font-size="5.15" text-anchor="middle" fill="#111" font-family="Liberation Sans, sans-serif" font-weight="bold" transform="rotate(-90 369.0 310.3)" stroke="#111" stroke-width="0.32" >0.8</text>
<line x1="372.5" y1="269.6" x2="376.1" y2="269.6" stroke="#0a0a0a" stroke-width="2.05"/>
<text x="369.0" y="269.6" font-size="5.15" text-anchor="middle" fill="#111" font-family="Liberation Sans, sans-serif" font-weight="bold" transform="rotate(-90 369.0 269.6)" stroke="#111" stroke-width="0.32" >1.0</text>
<text x="529.1" y="489.9" font-size="5.5" text-anchor="middle" fill="#111" font-family="Liberation Sans, sans-serif" font-weight="bold" textLength="129.3" lengthAdjust="spacingAndGlyphs" stroke="#111" stroke-width="0.2" >Predicted Probability of 5&#8722;Year Incident MDR&#8722;TB</text>
<text x="355.0" y="391.5" font-size="5.5" text-anchor="middle" fill="#111" font-family="Liberation Sans, sans-serif" font-weight="bold" textLength="127.0" lengthAdjust="spacingAndGlyphs" transform="rotate(-90 355.0 391.5)" stroke="#111" stroke-width="0.2" >Observed Probability of 5-Year Incident MDR-TB</text>
<text x="376.1" y="491.2" font-size="4.0" text-anchor="start" fill="#000" font-family="Liberation Sans, sans-serif" font-weight="bold" textLength="76.0" lengthAdjust="spacingAndGlyphs" stroke="#000" stroke-width="0.17" >n=117 d=39 p=9, 29 subjects per group</text>
<text x="376.1" y="496.3" font-size="4.0" text-anchor="start" fill="#000" font-family="Liberation Sans, sans-serif" font-weight="bold" textLength="19.7" lengthAdjust="spacingAndGlyphs" stroke="#000" stroke-width="0.17" >Gray: ideal</text>
<text x="646.5" y="491.2" font-size="4.0" text-anchor="middle" fill="#000" font-family="Liberation Sans, sans-serif" font-weight="bold" textLength="78.0" lengthAdjust="spacingAndGlyphs" stroke="#000" stroke-width="0.17" >X - resampling optimism added, B=120</text>
<text x="645.5" y="496.3" font-size="4.0" text-anchor="middle" fill="#000" font-family="Liberation Sans, sans-serif" font-weight="bold" textLength="53.2" lengthAdjust="spacingAndGlyphs" stroke="#000" stroke-width="0.17" >Based on observed&#8722;predicted</text>
<polyline points="397.0,722.2 413.3,716.2 512.2,669.5 580.3,606.3" fill="none" stroke="#b4533c" stroke-width="2.0" stroke-linejoin="round"/>
<path d="M395.2 691.6V736.8M392.0 691.6H398.4M392.0 736.8H398.4" stroke="#1874c6" stroke-width="2.05" fill="none"/>
<path d="M512.0 601.3V705.2M508.8 601.3H515.2M508.8 705.2H515.2" stroke="#1874c6" stroke-width="2.05" fill="none"/>
<path d="M582.8 588.7V624.4M579.6 588.7H586.0M579.6 624.4H586.0" stroke="#1874c6" stroke-width="2.05" fill="none"/>
<line x1="376.1" y1="735.8" x2="674.2" y2="567" stroke="#e3e3e3" stroke-width="2.0"/>
<line x1="378.6" y1="550.6" x2="378.6" y2="555.2" stroke="#0a0a0a" stroke-width="1.401869158878526"/>
<line x1="381.2" y1="550.6" x2="381.2" y2="555.2" stroke="#0a0a0a" stroke-width="1.401869158878526"/>
<line x1="384.1" y1="550.6" x2="384.1" y2="555.2" stroke="#0a0a0a" stroke-width="2.5700934579439263"/>
<line x1="387.6" y1="550.6" x2="387.6" y2="555.2" stroke="#0a0a0a" stroke-width="2.5700934579439263"/>
<line x1="391.7" y1="550.6" x2="391.7" y2="555.2" stroke="#0a0a0a" stroke-width="3.7383177570093267"/>
<line x1="396.5" y1="550.6" x2="396.5" y2="555.2" stroke="#0a0a0a" stroke-width="3.971962616822452"/>
<line x1="411.1" y1="550.6" x2="411.1" y2="555.2" stroke="#0a0a0a" stroke-width="1.8691588785046633"/>
<line x1="413.7" y1="550.6" x2="413.7" y2="555.2" stroke="#0a0a0a" stroke-width="1.401869158878526"/>
<line x1="416.4" y1="550.6" x2="416.4" y2="555.2" stroke="#0a0a0a" stroke-width="1.6355140186915946"/>
<line x1="425.8" y1="550.6" x2="425.8" y2="555.2" stroke="#0a0a0a" stroke-width="1.401869158878526"/>
<line x1="442.1" y1="550.6" x2="442.1" y2="555.2" stroke="#0a0a0a" stroke-width="6.308411214953253"/>
<line x1="463.6" y1="550.6" x2="463.6" y2="555.2" stroke="#0a0a0a" stroke-width="1.1682242990654004"/>
<line x1="470.6" y1="550.6" x2="470.6" y2="555.2" stroke="#0a0a0a" stroke-width="2.5700934579439263"/>
<line x1="479.2" y1="550.6" x2="479.2" y2="555.2" stroke="#0a0a0a" stroke-width="1.1682242990654004"/>
<line x1="482.9" y1="550.6" x2="482.9" y2="555.2" stroke="#0a0a0a" stroke-width="1.401869158878526"/>
<line x1="485.7" y1="550.6" x2="485.7" y2="555.2" stroke="#0a0a0a" stroke-width="1.401869158878526"/>
<line x1="488.8" y1="550.6" x2="488.8" y2="555.2" stroke="#0a0a0a" stroke-width="1.6355140186915946"/>
<line x1="492.0" y1="550.6" x2="492.0" y2="555.2" stroke="#0a0a0a" stroke-width="1.8691588785046633"/>
<line x1="496.5" y1="550.6" x2="496.5" y2="555.2" stroke="#0a0a0a" stroke-width="3.0373831775700637"/>
<line x1="500.1" y1="550.6" x2="500.1" y2="555.2" stroke="#0a0a0a" stroke-width="2.3364485981308007"/>
<line x1="515.6" y1="550.6" x2="515.6" y2="555.2" stroke="#0a0a0a" stroke-width="1.401869158878526"/>
<line x1="523.0" y1="550.6" x2="523.0" y2="555.2" stroke="#0a0a0a" stroke-width="2.3364485981308007"/>
<line x1="528.8" y1="550.6" x2="528.8" y2="555.2" stroke="#0a0a0a" stroke-width="2.102803738317675"/>
<line x1="530.8" y1="550.6" x2="530.8" y2="555.2" stroke="#0a0a0a" stroke-width="7.009345794392516"/>
<line x1="537.6" y1="550.6" x2="537.6" y2="555.2" stroke="#0a0a0a" stroke-width="1.8691588785046633"/>
<line x1="541.4" y1="550.6" x2="541.4" y2="555.2" stroke="#0a0a0a" stroke-width="1.8691588785046633"/>
<line x1="545.3" y1="550.6" x2="545.3" y2="555.2" stroke="#0a0a0a" stroke-width="1.401869158878526"/>
<line x1="548.6" y1="550.6" x2="548.6" y2="555.2" stroke="#0a0a0a" stroke-width="1.401869158878526"/>
<line x1="551.9" y1="550.6" x2="551.9" y2="555.2" stroke="#0a0a0a" stroke-width="1.401869158878526"/>
<line x1="557.7" y1="550.6" x2="557.7" y2="555.2" stroke="#0a0a0a" stroke-width="4.6728971962616015"/>
<line x1="562.4" y1="550.6" x2="562.4" y2="555.2" stroke="#0a0a0a" stroke-width="2.3364485981309144"/>
<line x1="565.4" y1="550.6" x2="565.4" y2="555.2" stroke="#0a0a0a" stroke-width="1.401869158878526"/>
<line x1="571.7" y1="550.6" x2="571.7" y2="555.2" stroke="#0a0a0a" stroke-width="7.009345794392516"/>
<line x1="577.6" y1="550.6" x2="577.6" y2="555.2" stroke="#0a0a0a" stroke-width="1.401869158878526"/>
<line x1="581.1" y1="550.6" x2="581.1" y2="555.2" stroke="#0a0a0a" stroke-width="1.8691588785046633"/>
<line x1="586.0" y1="550.6" x2="586.0" y2="555.2" stroke="#0a0a0a" stroke-width="1.401869158878526"/>
<line x1="594.7" y1="550.6" x2="594.7" y2="555.2" stroke="#0a0a0a" stroke-width="3.0373831775700637"/>
<line x1="599.1" y1="550.6" x2="599.1" y2="555.2" stroke="#0a0a0a" stroke-width="2.3364485981309144"/>
<line x1="603.9" y1="550.6" x2="603.9" y2="555.2" stroke="#0a0a0a" stroke-width="3.504672897196201"/>
<line x1="612.4" y1="550.6" x2="612.4" y2="555.2" stroke="#0a0a0a" stroke-width="12.149532710280369"/>
<line x1="622.5" y1="550.6" x2="622.5" y2="555.2" stroke="#0a0a0a" stroke-width="5.8411214953271156"/>
<line x1="629.2" y1="550.6" x2="629.2" y2="555.2" stroke="#0a0a0a" stroke-width="2.803738317756938"/>
<line x1="632.2" y1="550.6" x2="632.2" y2="555.2" stroke="#0a0a0a" stroke-width="1.401869158878526"/>
<path d="M393.4 716.7L397.0 719.7M393.4 719.7L397.0 716.7" stroke="#0a1cff" stroke-width="1.4" fill="none"/>
<rect x="393.6" y="716.6" width="3.2" height="3.2" fill="#0a1cff"/>
<path d="M510.2 668.0L513.8 671.0M510.2 671.0L513.8 668.0" stroke="#0a1cff" stroke-width="1.4" fill="none"/>
<rect x="510.4" y="667.9" width="3.2" height="3.2" fill="#0a1cff"/>
<path d="M581.0 612.3L584.6 615.3M581.0 615.3L584.6 612.3" stroke="#0a1cff" stroke-width="1.4" fill="none"/>
<rect x="581.2" y="612.2" width="3.2" height="3.2" fill="#0a1cff"/>
<rect x="376.1" y="550.6" width="298.1" height="202.3" fill="none" stroke="#0a0a0a" stroke-width="2.05"/>
<line x1="414.8" y1="752.9" x2="414.8" y2="756.5" stroke="#0a0a0a" stroke-width="2.05"/>
<text x="414.8" y="764.8" font-size="5.5" text-anchor="middle" fill="#111" font-family="Liberation Sans, sans-serif" font-weight="bold" stroke="#111" stroke-width="0.32" >0.2</text>
<line x1="469.9" y1="752.9" x2="469.9" y2="756.5" stroke="#0a0a0a" stroke-width="2.05"/>
<text x="469.9" y="764.8" font-size="5.5" text-anchor="middle" fill="#111" font-family="Liberation Sans, sans-serif" font-weight="bold" stroke="#111" stroke-width="0.32" >0.4</text>
<line x1="525.0" y1="752.9" x2="525.0" y2="756.5" stroke="#0a0a0a" stroke-width="2.05"/>
<text x="525.0" y="764.8" font-size="5.5" text-anchor="middle" fill="#111" font-family="Liberation Sans, sans-serif" font-weight="bold" stroke="#111" stroke-width="0.32" >0.6</text>
<line x1="580.0" y1="752.9" x2="580.0" y2="756.5" stroke="#0a0a0a" stroke-width="2.05"/>
<text x="580.0" y="764.8" font-size="5.5" text-anchor="middle" fill="#111" font-family="Liberation Sans, sans-serif" font-weight="bold" stroke="#111" stroke-width="0.32" >0.8</text>
<line x1="635.1" y1="752.9" x2="635.1" y2="756.5" stroke="#0a0a0a" stroke-width="2.05"/>
<text x="635.1" y="764.8" font-size="5.5" text-anchor="middle" fill="#111" font-family="Liberation Sans, sans-serif" font-weight="bold" stroke="#111" stroke-width="0.32" >1.0</text>
<line x1="372.5" y1="745.3" x2="376.1" y2="745.3" stroke="#0a0a0a" stroke-width="2.05"/>
<text x="369.0" y="745.3" font-size="5.15" text-anchor="middle" fill="#111" font-family="Liberation Sans, sans-serif" font-weight="bold" transform="rotate(-90 369.0 745.3)" stroke="#111" stroke-width="0.32" >0.0</text>
<line x1="372.5" y1="714.0" x2="376.1" y2="714.0" stroke="#0a0a0a" stroke-width="2.05"/>
<text x="369.0" y="714.0" font-size="5.15" text-anchor="middle" fill="#111" font-family="Liberation Sans, sans-serif" font-weight="bold" transform="rotate(-90 369.0 714.0)" stroke="#111" stroke-width="0.32" >0.2</text>
<line x1="372.5" y1="682.7" x2="376.1" y2="682.7" stroke="#0a0a0a" stroke-width="2.05"/>
<text x="369.0" y="682.7" font-size="5.15" text-anchor="middle" fill="#111" font-family="Liberation Sans, sans-serif" font-weight="bold" transform="rotate(-90 369.0 682.7)" stroke="#111" stroke-width="0.32" >0.4</text>
<line x1="372.5" y1="651.5" x2="376.1" y2="651.5" stroke="#0a0a0a" stroke-width="2.05"/>
<text x="369.0" y="651.5" font-size="5.15" text-anchor="middle" fill="#111" font-family="Liberation Sans, sans-serif" font-weight="bold" transform="rotate(-90 369.0 651.5)" stroke="#111" stroke-width="0.32" >0.6</text>
<line x1="372.5" y1="620.2" x2="376.1" y2="620.2" stroke="#0a0a0a" stroke-width="2.05"/>
<text x="369.0" y="620.2" font-size="5.15" text-anchor="middle" fill="#111" font-family="Liberation Sans, sans-serif" font-weight="bold" transform="rotate(-90 369.0 620.2)" stroke="#111" stroke-width="0.32" >0.8</text>
<line x1="372.5" y1="588.9" x2="376.1" y2="588.9" stroke="#0a0a0a" stroke-width="2.05"/>
<text x="369.0" y="588.9" font-size="5.15" text-anchor="middle" fill="#111" font-family="Liberation Sans, sans-serif" font-weight="bold" transform="rotate(-90 369.0 588.9)" stroke="#111" stroke-width="0.32" >1.0</text>
<line x1="372.5" y1="557.6" x2="376.1" y2="557.6" stroke="#0a0a0a" stroke-width="2.05"/>
<text x="369.0" y="557.6" font-size="5.15" text-anchor="middle" fill="#111" font-family="Liberation Sans, sans-serif" font-weight="bold" transform="rotate(-90 369.0 557.6)" stroke="#111" stroke-width="0.32" >1.2</text>
<text x="528.8" y="777.9" font-size="5.5" text-anchor="middle" fill="#111" font-family="Liberation Sans, sans-serif" font-weight="bold" textLength="131.5" lengthAdjust="spacingAndGlyphs" stroke="#111" stroke-width="0.2" >Predicted Probability of 10&#8722;Year Incident MDR&#8722;TB</text>
<text x="351.7" y="637.5" font-size="5.5" text-anchor="middle" fill="#111" font-family="Liberation Sans, sans-serif" font-weight="bold" textLength="130.0" lengthAdjust="spacingAndGlyphs" transform="rotate(-90 351.7 637.5)" stroke="#111" stroke-width="0.2" >Observed Probability of 10-Year Incident MDR-TB</text>
<text x="376.1" y="779.4" font-size="4.0" text-anchor="start" fill="#000" font-family="Liberation Sans, sans-serif" font-weight="bold" textLength="76.0" lengthAdjust="spacingAndGlyphs" stroke="#000" stroke-width="0.17" >n=117 d=39 p=9, 29 subjects per group</text>
<text x="376.1" y="784.3" font-size="4.0" text-anchor="start" fill="#000" font-family="Liberation Sans, sans-serif" font-weight="bold" textLength="19.7" lengthAdjust="spacingAndGlyphs" stroke="#000" stroke-width="0.17" >Gray: ideal</text>
<text x="646.5" y="779.4" font-size="4.0" text-anchor="middle" fill="#000" font-family="Liberation Sans, sans-serif" font-weight="bold" textLength="78.0" lengthAdjust="spacingAndGlyphs" stroke="#000" stroke-width="0.17" >X - resampling optimism added, B=119</text>
<text x="645.5" y="784.3" font-size="4.0" text-anchor="middle" fill="#000" font-family="Liberation Sans, sans-serif" font-weight="bold" textLength="53.2" lengthAdjust="spacingAndGlyphs" stroke="#000" stroke-width="0.17" >Based on observed-predicted</text>
<circle cx="601.4" cy="333.6" r="0.95" fill="#222"/>
<text x="4.5" y="832" font-size="22" fill="#111" font-family="Liberation Sans, sans-serif" font-weight="bold" textLength="152.5" lengthAdjust="spacingAndGlyphs">A: Training set</text>
<text x="353.5" y="832" font-size="22" fill="#111" font-family="Liberation Sans, sans-serif" font-weight="bold" textLength="171" lengthAdjust="spacingAndGlyphs">B: Validation set</text>
</g>
</svg>
</body></html>
